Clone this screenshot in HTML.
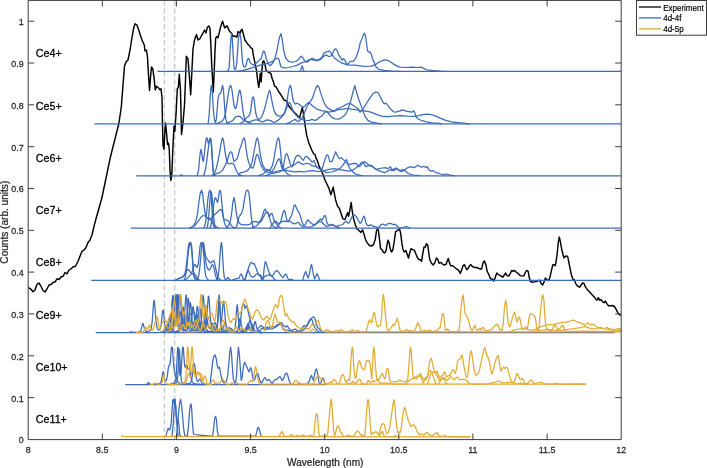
<!DOCTYPE html>
<html><head><meta charset="utf-8"><title>Ce spectra</title>
<style>html,body{margin:0;padding:0;background:#fff}svg{display:block}text{font-family:"Liberation Sans",Arial,Helvetica,sans-serif;fill:#262626}</style></head><body>
<svg width="707" height="468" viewBox="0 0 707 468">
<rect width="707" height="468" fill="#fff"/>
<line x1="164.3" y1="0.4" x2="164.3" y2="439.6" stroke="#8c8c8c" stroke-width="0.6" stroke-dasharray="5.4 2.5"/>
<line x1="174.8" y1="0.4" x2="174.8" y2="439.6" stroke="#8c8c8c" stroke-width="0.6" stroke-dasharray="5.4 2.5"/>
<g fill="none" stroke-linejoin="round" stroke-linecap="butt">
<path d="M28.3 287.5 L30.5 288.8 L33.0 291.8 L35.0 290.0 L37.0 284.3 L39.0 283.0 L41.0 286.3 L43.0 290.5 L45.0 292.0 L47.0 288.8 L49.0 285.0 L51.0 284.5 L53.0 282.5 L55.0 282.0 L57.0 278.8 L59.0 279.5 L61.0 277.0 L63.0 276.3 L65.0 272.5 L67.0 273.8 L69.0 270.0 L71.0 268.8 L73.0 267.0 L75.5 266.3 L78.0 261.3 L80.0 256.3 L82.0 251.3 L84.0 250.0 L86.0 247.5 L88.0 242.5 L90.0 240.0 L92.0 235.0 L94.0 226.3 L96.0 218.8 L98.5 210.0 L101.3 200.0 L102.5 195.0 L110.0 158.8 L118.8 123.8 L121.3 107.0 L123.0 85.0 L124.5 66.0 L126.0 62.0 L128.0 60.0 L130.0 50.0 L132.0 37.5 L133.8 27.5 L135.0 23.8 L137.0 25.0 L139.5 32.5 L142.0 40.0 L144.3 45.0 L145.0 51.0 L146.5 50.0 L147.5 57.5 L148.5 75.0 L149.5 90.5 L150.5 77.5 L151.5 67.0 L152.8 68.8 L154.0 77.5 L155.3 90.0 L156.5 86.3 L158.3 87.5 L159.5 89.5 L161.0 88.8 L162.0 97.5 L162.5 125.0 L163.0 145.0 L164.0 149.3 L164.8 132.5 L165.5 123.0 L166.5 132.5 L167.5 144.5 L168.5 143.0 L169.3 150.0 L170.0 170.0 L170.8 180.5 L171.8 175.0 L172.8 150.0 L174.0 126.3 L174.8 131.3 L176.0 115.0 L177.0 95.0 L177.3 88.8 L178.3 87.5 L179.3 74.3 L180.5 90.0 L181.0 112.5 L181.5 134.5 L183.0 122.5 L184.5 105.0 L185.5 80.0 L186.3 56.3 L188.0 58.8 L189.5 78.0 L190.7 94.8 L191.9 71.0 L193.0 49.0 L194.5 40.0 L196.5 34.5 L198.0 40.0 L200.0 38.6 L201.4 35.8 L203.1 32.9 L204.6 30.0 L206.0 32.9 L207.4 27.2 L208.9 26.0 L210.0 28.6 L210.9 45.8 L211.7 64.4 L212.6 80.0 L213.3 92.0 L214.2 72.0 L214.9 52.9 L215.7 37.9 L216.9 36.5 L218.0 37.9 L219.2 32.9 L220.6 27.2 L221.7 23.6 L222.6 21.2 L223.5 24.3 L224.6 27.9 L225.8 26.9 L226.9 25.7 L228.0 27.9 L229.2 30.7 L230.6 32.2 L231.8 33.6 L232.9 36.5 L234.3 35.8 L235.8 36.5 L236.9 37.2 L238.1 31.5 L239.2 32.2 L240.3 32.9 L241.2 30.0 L242.1 29.3 L242.9 32.2 L243.8 35.8 L244.9 40.0 L246.4 42.2 L247.8 44.3 L249.5 45.8 L250.9 47.9 L252.4 48.6 L253.2 54.3 L254.4 60.1 L255.5 65.8 L256.6 70.8 L257.6 80.2 L258.8 87.5 L259.8 78.5 L260.3 73.3 L261.2 81.9 L261.9 70.8 L262.7 61.9 L263.9 60.9 L265.0 64.8 L266.0 69.9 L267.4 71.6 L269.1 72.5 L270.8 73.3 L272.1 78.5 L273.5 81.9 L274.5 86.2 L276.2 87.0 L277.9 90.4 L279.7 93.0 L281.9 96.4 L284.1 100.2 L286.5 100.7 L288.2 105.0 L289.9 107.5 L292.1 110.1 L294.4 112.6 L296.4 114.4 L298.5 116.9 L299.6 117.4 L301.1 112.0 L302.3 107.7 L303.3 112.8 L304.4 120.5 L305.4 127.4 L306.8 135.9 L308.5 141.9 L310.2 146.2 L311.9 150.4 L313.6 153.8 L315.0 154.4 L316.0 158.1 L317.4 160.7 L318.7 165.0 L320.1 168.4 L321.8 171.8 L323.3 175.1 L325.0 180.3 L327.1 184.5 L328.8 187.9 L330.9 194.8 L332.2 190.5 L333.2 187.1 L334.3 193.1 L335.6 199.9 L337.4 205.9 L339.4 208.5 L341.1 213.6 L342.8 218.7 L344.9 219.6 L346.6 215.3 L347.6 212.7 L348.6 216.2 L350.0 209.3 L351.2 202.5 L352.2 211.0 L353.6 218.7 L355.3 224.7 L357.0 229.0 L359.2 230.7 L360.9 232.4 L362.6 229.8 L364.0 234.1 L365.4 239.2 L367.1 242.6 L369.1 245.2 L371.5 246.1 L373.6 244.4 L375.0 240.1 L375.5 237.6 L376.5 230.8 L377.5 228.7 L378.5 230.8 L379.6 240.2 L380.6 248.7 L382.0 249.6 L383.3 252.1 L384.7 253.0 L386.1 250.4 L387.1 244.4 L388.1 240.2 L389.1 242.7 L390.2 248.7 L391.5 252.1 L392.9 249.6 L394.3 241.0 L395.6 231.6 L397.0 230.8 L398.4 229.9 L399.7 229.4 L400.8 234.2 L401.8 242.7 L402.8 248.7 L404.2 252.1 L405.9 250.4 L407.3 254.7 L408.5 258.1 L409.7 253.0 L411.0 248.7 L412.7 249.6 L414.4 250.4 L415.8 253.8 L417.2 257.3 L418.9 259.5 L420.6 259.8 L421.6 261.5 L422.6 254.7 L424.0 247.0 L425.4 247.0 L426.4 243.6 L427.8 245.3 L428.8 253.0 L429.8 259.8 L431.5 263.2 L433.2 265.0 L435.0 262.4 L436.3 258.1 L437.7 259.0 L439.1 263.2 L440.8 262.4 L442.5 264.1 L444.2 265.0 L446.2 264.1 L447.3 260.7 L448.3 258.5 L449.3 262.4 L450.7 265.8 L452.7 265.8 L454.8 267.5 L456.8 269.2 L458.5 270.1 L460.3 273.5 L461.6 270.1 L463.0 265.8 L464.4 264.6 L465.7 267.5 L466.8 269.7 L468.1 268.4 L469.5 265.8 L470.9 264.6 L472.6 266.7 L474.6 267.5 L476.7 267.5 L478.7 268.4 L480.8 269.2 L481.7 268.7 L483.1 262.7 L484.4 261.0 L485.8 264.4 L487.2 271.3 L488.9 274.7 L490.6 279.0 L492.3 279.0 L493.7 281.2 L495.0 278.1 L496.8 273.0 L498.5 274.7 L500.5 275.6 L502.6 277.3 L504.3 275.0 L505.6 273.0 L507.0 275.6 L508.7 276.1 L510.4 273.3 L511.8 270.4 L513.2 271.3 L514.5 270.4 L516.2 272.1 L518.3 273.8 L520.3 275.6 L522.4 276.1 L524.1 275.6 L525.5 272.1 L526.8 270.4 L528.2 271.3 L529.2 277.3 L530.3 281.2 L532.0 282.4 L534.0 281.9 L536.1 281.5 L538.1 280.7 L539.8 280.2 L541.2 283.6 L542.6 285.0 L543.9 282.4 L545.3 278.1 L547.0 279.8 L548.7 280.7 L550.1 276.4 L551.5 270.4 L552.8 264.8 L554.2 264.8 L555.2 265.8 L556.2 261.0 L557.3 252.5 L558.3 242.2 L559.3 237.1 L560.3 241.4 L561.7 249.1 L563.1 255.0 L564.1 257.9 L565.5 256.2 L566.8 255.9 L567.9 257.3 L568.9 262.7 L570.3 269.6 L571.6 275.6 L573.0 279.5 L574.4 279.8 L575.7 283.6 L577.4 285.8 L579.5 287.2 L581.2 285.0 L582.6 282.9 L583.9 283.2 L585.3 286.7 L587.0 289.2 L589.4 291.8 L591.8 294.4 L594.2 296.9 L596.2 299.7 L597.3 300.0 L598.3 297.6 L599.7 300.2 L601.0 299.7 L602.7 301.9 L604.1 302.7 L605.5 301.0 L606.8 303.6 L608.5 305.8 L610.6 305.8 L612.6 305.5 L614.4 306.5 L616.1 309.2 L617.8 312.6 L619.5 314.7 L621.0 315.6" stroke="#000" stroke-width="1.45"/>
<g stroke="#3C6ABA" stroke-width="1.25">
<path d="M157.5 71.3 L621.0 71.3"/>
<path d="M226.0 71.3 L227.9 71.2 L229.2 67.2 L230.0 52.9 L230.9 38.6 L231.6 33.6 L232.3 38.6 L233.2 55.8 L234.0 67.2 L234.9 69.8 L235.8 68.5 L236.6 64.4 L237.5 52.9 L238.3 40.0 L239.2 34.3 L240.1 33.6 L240.9 38.6 L241.8 52.9 L242.6 62.9 L243.6 66.5 L244.9 67.2 L246.1 65.1 L247.2 60.1 L248.4 58.4 L249.4 60.1 L250.4 62.9 L251.8 64.1 L253.2 65.1 L254.9 64.4 L257.2 62.2 L259.4 60.1 L261.2 58.6 L262.7 52.9 L263.8 50.8 L264.9 52.9 L266.4 59.4 L268.1 63.6 L270.1 65.8 L272.2 63.6 L274.4 60.1 L276.4 52.9 L278.1 44.3 L279.5 37.2 L281.0 33.6 L282.1 38.6 L283.6 50.0 L285.7 57.9 L288.6 61.5 L292.2 62.2 L295.7 61.5 L298.6 59.4 L301.2 56.1 L302.9 57.9 L305.0 61.5 L307.2 62.2 L310.0 59.8 L312.2 58.4 L314.3 59.4 L316.5 60.8 L318.6 60.2 L320.8 59.4 L322.2 57.9 L324.3 55.8 L326.5 55.1 L328.6 56.5 L330.8 56.1 L332.9 52.9 L334.4 49.3 L335.8 48.9 L337.2 50.8 L338.9 55.1 L340.8 57.9 L342.2 60.1 L343.7 58.6 L345.1 60.8 L346.5 63.6 L348.0 64.4 L349.4 62.2 L350.8 61.2 L353.0 61.5 L355.1 59.4 L357.3 54.3 L359.0 48.6 L360.4 42.2 L361.8 39.3 L363.3 35.0 L364.5 33.2 L365.6 36.5 L366.7 44.3 L367.5 50.8 L369.0 52.2 L370.1 51.8 L371.6 55.1 L373.0 60.1 L374.4 62.9 L375.7 66.5 L378.6 69.4 L384.3 70.4 L391.5 71.2 L400.0 71.3"/>
<path d="M236.0 71.3 L242.0 70.6 L248.0 69.2 L254.0 67.2 L260.0 65.2 L266.0 63.8 L270.0 62.6 L273.0 61.0 L275.5 59.0 L277.5 58.0 L279.0 59.5 L280.7 66.5 L282.9 67.7 L285.7 67.9 L288.6 67.5 L292.9 66.5 L297.2 65.1 L301.5 62.9 L305.8 61.5 L308.6 60.1 L311.0 59.2 L314.3 60.4 L318.6 59.6 L321.5 57.9 L324.3 52.9 L327.2 51.5 L329.4 51.2 L331.5 53.6 L334.4 57.9 L337.2 60.1 L341.5 62.9 L347.2 64.8 L354.4 65.1 L360.0 65.8 L365.7 66.5 L371.4 66.1 L375.7 64.4 L380.0 61.5 L383.6 60.1 L385.8 59.8 L388.6 60.8 L392.9 63.6 L397.2 66.1 L400.1 67.2 L405.8 67.5 L411.5 67.2 L417.2 67.5 L421.5 67.2 L423.7 68.4 L426.5 69.8 L431.5 70.4 L440.1 71.1 L446.0 71.3"/>
<path d="M300.0 71.3 L300.7 70.2 L302.2 65.8 L303.6 70.2 L304.5 71.3"/>
<path d="M94.5 123.8 L621.0 123.8"/>
<path d="M207.5 123.8 L208.2 123.0 L209.2 114.6 L210.1 98.9 L210.8 88.5 L211.3 85.3 L212.2 90.6 L213.2 107.3 L214.3 118.8 L215.3 122.5 L216.3 119.9 L217.2 109.4 L218.0 98.9 L218.9 94.7 L219.9 93.7 L221.0 92.6 L221.8 88.5 L222.6 85.3 L223.5 90.6 L224.3 102.1 L225.1 113.6 L226.0 119.9 L227.0 122.5 L229.0 123.8"/>
<path d="M216.0 123.8 L217.6 123.2 L221.8 121.4 L223.9 118.8 L225.5 113.6 L226.8 104.2 L228.3 93.7 L229.6 86.9 L230.7 85.5 L231.7 88.5 L232.8 95.8 L233.8 104.2 L234.9 108.3 L235.9 108.3 L237.0 104.2 L238.0 96.8 L239.1 91.6 L239.9 90.0 L240.8 93.7 L241.9 102.1 L242.9 110.4 L244.0 116.7 L245.0 119.9 L246.1 121.4 L249.0 122.6 L252.0 123.8"/>
<path d="M240.0 123.8 L243.8 121.0 L245.9 118.3 L247.9 116.7 L249.5 115.1 L250.6 111.5 L251.6 103.1 L252.4 97.9 L253.2 96.8 L254.0 98.9 L254.9 106.3 L255.7 112.5 L256.8 117.2 L258.4 119.3 L260.0 118.8 L261.6 116.7 L263.1 113.6 L264.7 108.3 L266.3 102.1 L267.8 95.8 L268.9 91.6 L269.6 90.3 L270.4 92.6 L271.5 98.9 L272.5 104.2 L274.0 110.4 L276.1 114.6 L278.7 116.2 L281.4 115.9 L283.5 114.6 L285.0 111.5 L286.6 105.2 L287.6 96.8 L289.0 88.5 L290.3 85.3 L291.3 88.5 L292.3 95.8 L293.4 101.5 L295.0 104.0 L297.1 103.3 L299.1 104.2 L301.2 106.0 L303.3 107.3 L304.9 106.0 L306.5 104.2 L308.0 102.9 L309.6 102.1 L311.2 100.5 L312.8 97.0 L314.3 92.6 L315.9 87.9 L317.5 85.3 L319.0 87.4 L320.6 92.6 L322.7 98.9 L324.8 104.2 L327.4 107.8 L330.8 109.9 L334.4 111.4 L337.2 108.5 L340.0 107.8 L343.0 106.3 L346.5 104.2 L349.4 103.5 L351.5 104.2 L354.4 106.3 L358.0 108.5 L360.0 112.1 L362.9 109.2 L366.4 103.5 L370.0 97.8 L372.9 93.8 L375.7 92.0 L377.9 92.3 L380.0 96.3 L382.2 100.6 L384.0 103.8 L386.0 103.2 L387.9 105.6 L390.8 109.2 L393.6 111.8 L395.8 112.1 L397.9 111.4 L400.1 110.9 L402.2 109.9 L404.3 110.4 L407.2 111.4 L410.1 111.8 L412.2 112.1 L413.6 110.6 L414.8 112.8 L416.1 117.1 L418.7 119.2 L422.2 120.7 L426.5 121.8 L431.5 122.8 L437.3 123.2 L442.0 123.8"/>
<path d="M226.0 123.8 L228.1 122.5 L231.2 121.4 L233.3 119.9 L234.9 117.8 L236.4 116.5 L238.5 116.2 L240.1 116.5 L241.7 118.3 L243.8 120.4 L245.9 121.4 L249.0 122.0 L252.1 120.9 L255.3 119.9 L257.4 119.9 L259.5 120.9 L262.6 122.0 L265.7 120.4 L267.8 119.9 L271.0 120.9 L274.0 122.5 L275.6 121.9 L278.7 119.9 L281.9 116.7 L284.5 113.6 L286.6 108.3 L288.2 103.1 L289.7 102.6 L291.1 105.2 L292.3 109.4 L293.9 112.5 L296.0 115.1 L298.6 117.8 L301.8 119.3 L305.9 120.4 L309.1 120.7 L311.7 119.3 L313.3 119.9 L315.4 120.4 L317.5 119.3 L319.5 117.2 L322.2 115.7 L324.3 112.8 L326.5 111.4 L328.6 113.5 L331.5 117.1 L335.1 118.9 L338.7 119.2 L341.5 117.8 L344.4 115.6 L346.5 112.8 L348.0 109.2 L349.4 104.9 L350.8 100.6 L353.0 92.0 L354.8 85.6 L356.5 92.0 L358.7 99.2 L360.8 104.9 L362.9 110.6 L365.0 116.4 L367.9 120.4 L371.4 122.1 L377.2 123.1 L382.0 123.8"/>
<path d="M286.0 123.8 L290.0 122.3 L293.0 120.5 L295.0 119.3 L296.5 120.8 L298.5 121.5 L301.8 118.3 L304.0 114.0 L306.5 107.5 L309.3 102.8 L312.9 106.3 L317.2 109.2 L321.5 110.6 L325.8 111.4 L328.6 112.1 L332.9 111.4 L337.2 109.9 L342.9 109.2 L347.2 108.5 L351.5 109.2 L357.3 109.9 L360.0 110.6 L364.3 110.9 L370.0 111.8 L375.7 114.2 L381.5 116.1 L387.2 116.6 L392.9 116.1 L400.1 115.6 L407.2 116.1 L414.4 116.4 L418.7 115.6 L422.9 114.6 L427.2 114.2 L431.5 114.6 L435.8 116.1 L440.1 118.1 L445.8 120.4 L451.6 121.8 L460.0 122.8 L470.0 123.8"/>
<path d="M136.3 175.8 L621.0 175.8"/>
<path d="M180.0 175.8 L181.3 174.6 L182.6 175.8"/>
<path d="M196.5 175.8 L197.3 175.5 L198.6 169.8 L199.6 158.3 L200.5 150.9 L201.1 149.4 L201.9 154.1 L202.8 160.3 L203.4 161.4 L204.2 155.1 L205.3 144.6 L206.2 138.4 L207.0 137.8 L207.8 141.5 L208.4 143.6 L209.3 140.5 L209.9 138.4 L210.7 138.9 L211.6 145.7 L212.4 159.3 L213.2 170.8 L214.3 175.0 L215.5 175.8"/>
<path d="M203.0 175.8 L203.6 175.5 L205.2 170.8 L206.7 161.4 L208.0 150.9 L209.0 142.6 L210.1 138.2 L210.9 139.4 L211.8 150.9 L212.6 164.5 L213.4 172.9 L214.6 175.2 L215.5 175.8"/>
<path d="M211.5 175.8 L212.5 175.0 L214.6 172.9 L216.2 168.7 L217.7 162.4 L219.3 154.1 L220.9 144.6 L221.9 139.4 L222.6 137.8 L223.5 140.5 L224.5 147.8 L225.6 155.1 L226.6 160.3 L227.9 163.5 L229.2 164.0 L230.8 163.3 L232.4 163.3 L233.9 164.5 L235.2 167.7 L236.6 171.3 L238.1 173.9 L240.2 175.2 L242.0 175.8"/>
<path d="M212.0 175.8 L213.5 175.0 L217.2 173.4 L220.3 172.4 L222.4 170.3 L224.0 167.7 L225.6 164.5 L227.1 161.4 L228.5 156.2 L229.8 152.5 L230.8 151.8 L231.9 152.5 L232.9 157.2 L233.9 161.4 L235.5 160.3 L237.1 158.8 L238.3 155.1 L239.7 149.4 L241.1 145.7 L242.3 141.5 L243.4 138.4 L244.2 137.8 L245.0 140.5 L246.0 147.8 L247.0 155.1 L248.4 161.4 L249.9 165.6 L251.5 167.7 L252.8 168.2 L254.0 165.6 L255.1 160.3 L256.4 155.1 L257.4 154.1 L258.5 156.2 L259.8 161.4 L261.4 166.1 L263.5 169.8 L266.1 171.9 L269.3 172.4 L271.9 171.3 L274.0 168.7 L275.5 165.6 L277.1 161.4 L278.7 158.8 L279.7 159.3 L280.8 163.5 L281.8 167.7 L282.9 169.8 L283.4 166.6 L284.4 160.3 L285.5 155.1 L286.7 153.5 L287.8 155.6 L289.1 160.3 L290.5 164.5 L291.8 166.6 L293.0 164.5 L294.4 160.3 L295.9 156.7 L297.5 155.3 L299.1 155.6 L300.7 157.0 L302.2 159.8 L303.3 160.3 L304.3 158.3 L305.9 156.2 L307.5 157.0 L309.0 158.8 L310.6 160.3 L312.2 162.4 L313.2 161.4 L313.9 160.3 L314.8 162.4 L315.8 165.6 L317.4 167.7 L319.5 168.7 L320.9 170.6 L322.9 166.6 L324.9 159.7 L326.8 154.8 L328.2 155.7 L329.8 161.7 L331.8 161.7 L333.8 156.7 L335.7 151.8 L337.3 155.7 L339.3 158.7 L341.3 157.7 L343.3 159.7 L345.2 160.7 L346.6 159.7 L348.0 164.7 L350.0 168.6 L352.6 171.6 L355.5 174.0 L359.5 175.1 L363.0 175.8"/>
<path d="M238.0 175.8 L240.2 172.9 L244.4 171.9 L247.0 170.8 L249.1 168.7 L250.7 166.1 L252.3 161.4 L253.8 153.0 L255.4 144.6 L256.4 139.4 L257.4 138.0 L258.5 141.5 L259.8 150.9 L261.4 160.3 L263.0 165.6 L265.1 169.2 L267.7 170.3 L270.3 169.8 L272.4 165.6 L274.0 158.3 L275.5 148.8 L277.1 140.5 L278.4 137.8 L279.4 140.5 L280.5 150.9 L281.5 161.4 L282.6 167.7 L283.9 170.3 L286.0 172.4 L288.1 174.5 L290.2 175.5 L292.0 175.8"/>
<path d="M258.0 175.8 L262.5 174.3 L265.6 172.0 L267.7 169.5 L269.8 170.8 L272.0 172.3 L276.0 171.5 L280.0 170.5 L283.4 169.8 L286.5 168.3 L289.0 167.0 L291.8 166.6 L293.9 165.0 L296.0 163.5 L298.0 161.9 L299.6 162.4 L301.2 163.7 L303.3 164.5 L305.4 163.5 L307.5 163.3 L309.6 164.0 L311.6 165.6 L313.7 166.1 L315.8 166.6 L319.0 168.2 L322.0 169.8 L325.8 172.6 L331.8 172.0 L335.7 170.6 L339.7 168.6 L342.7 165.6 L345.2 161.7 L346.8 162.7 L348.6 164.7 L350.6 164.1 L353.6 163.3 L356.5 163.7 L358.5 166.6 L360.5 165.6 L362.5 162.7 L365.0 161.7 L367.4 163.7 L369.4 165.6 L372.4 166.6 L375.3 168.6 L378.3 170.6 L381.3 171.6 L384.3 172.6 L387.2 171.6 L390.2 169.6 L392.2 170.6 L394.2 168.6 L396.1 168.0 L398.1 169.6 L400.1 170.6 L403.1 169.6 L405.0 170.6 L407.0 172.6 L410.0 174.0 L413.0 175.0 L417.9 175.3 L420.0 175.8"/>
<path d="M265.0 175.8 L270.8 173.7 L275.0 172.9 L279.2 171.8 L282.3 170.6 L285.5 170.2 L288.6 170.8 L291.8 171.3 L294.9 171.8 L299.1 171.3 L303.3 171.8 L306.4 171.6 L309.0 170.8 L312.7 170.6 L316.9 171.3 L322.0 171.5 L327.8 169.6 L333.8 168.6 L339.7 169.6 L345.6 170.6 L349.6 171.2 L353.6 169.6 L356.5 167.6 L359.5 164.7 L361.9 162.1 L363.9 163.7 L365.8 166.6 L368.4 165.6 L371.4 165.2 L373.4 167.6 L376.3 169.6 L379.3 168.6 L382.3 168.0 L385.2 167.6 L388.2 168.6 L390.2 166.6 L392.2 169.6 L394.2 170.6 L397.1 168.6 L399.1 170.6 L402.1 171.6 L405.0 169.6 L408.0 167.6 L411.0 166.6 L414.0 167.6 L415.9 166.6 L417.9 165.2 L419.9 166.6 L421.9 167.2 L423.9 166.2 L425.8 167.6 L427.2 166.6 L428.8 169.6 L430.8 171.2 L432.8 170.6 L434.8 172.0 L437.7 173.2 L440.7 174.0 L443.7 174.6 L446.6 174.0 L450.0 175.1 L455.0 175.8"/>
<path d="M130.8 228.2 L621.0 228.2"/>
<path d="M189.0 228.2 L191.3 227.2 L193.9 225.4 L196.0 220.7 L197.6 213.4 L198.8 202.9 L200.2 193.5 L201.5 190.2 L202.6 193.5 L203.6 202.9 L204.7 211.3 L205.7 215.5 L207.0 218.1 L208.5 218.6 L210.1 218.6 L211.7 218.1 L213.8 215.5 L215.9 213.4 L217.4 212.3 L219.0 210.3 L220.6 209.4 L221.6 210.3 L222.7 214.4 L223.7 218.6 L225.3 220.2 L226.9 219.9 L228.4 221.2 L230.0 223.3 L231.6 225.9 L233.1 227.2 L235.0 228.2"/>
<path d="M203.5 228.2 L204.4 227.2 L205.7 221.8 L206.8 211.3 L207.8 199.8 L208.9 192.5 L209.8 190.2 L210.7 193.5 L211.6 202.9 L212.4 215.5 L213.3 224.9 L214.3 227.2 L215.0 228.2"/>
<path d="M206.5 228.2 L207.5 226.5 L208.5 219.0 L209.4 207.0 L210.3 196.0 L211.2 191.4 L212.1 196.0 L213.0 208.0 L213.9 220.0 L214.9 226.8 L216.0 228.2"/>
<path d="M209.5 228.2 L210.6 226.5 L211.7 221.8 L212.7 213.4 L213.8 204.0 L214.8 198.7 L215.7 197.7 L216.6 200.3 L217.6 202.4 L218.5 197.7 L219.3 191.9 L220.2 190.2 L221.0 193.5 L221.8 202.9 L222.9 213.4 L223.9 220.7 L225.3 225.4 L226.9 227.0 L228.0 228.2"/>
<path d="M190.0 228.2 L192.3 227.0 L195.5 224.9 L198.6 220.7 L201.2 217.1 L203.3 215.5 L204.9 216.0 L207.0 217.6 L209.6 219.1 L211.5 221.0 L213.5 224.0 L216.0 226.5 L219.0 228.2"/>
<path d="M226.0 228.2 L227.5 226.8 L228.9 224.9 L230.5 220.7 L231.9 211.3 L232.9 201.9 L234.0 197.5 L235.0 201.9 L236.1 211.3 L237.3 218.6 L238.9 222.8 L241.0 224.4 L243.6 224.9 L246.7 224.9 L249.9 224.4 L251.1 222.8 L253.8 221.6 L256.4 221.6 L258.5 222.3 L260.0 221.2 L261.6 218.6 L263.2 213.4 L264.2 210.3 L265.1 209.0 L266.0 210.8 L266.8 212.9 L267.9 212.3 L268.9 214.4 L270.0 219.7 L271.5 223.9 L273.1 225.9 L276.0 228.2"/>
<path d="M235.5 228.2 L236.3 227.2 L237.3 224.0 L238.4 218.6 L239.9 215.5 L241.5 213.4 L243.1 208.2 L244.4 199.8 L245.7 192.5 L246.7 190.4 L247.8 190.2 L248.8 192.5 L249.9 200.8 L250.9 213.4 L252.0 222.8 L253.0 226.5 L254.5 228.2"/>
<path d="M252.0 228.2 L253.2 227.0 L256.4 226.0 L259.5 222.8 L261.6 220.7 L263.7 216.5 L265.3 213.4 L266.6 211.8 L267.9 212.9 L268.9 216.5 L270.0 215.5 L271.2 213.4 L272.3 213.9 L273.3 217.6 L274.7 221.8 L276.3 223.9 L277.8 225.4 L279.4 227.0 L281.0 228.2"/>
<path d="M276.0 228.2 L277.8 226.0 L279.4 223.9 L281.0 220.7 L282.3 215.5 L283.6 211.3 L284.4 210.5 L285.3 212.3 L286.2 217.6 L287.2 221.2 L288.3 221.6 L289.3 219.7 L290.9 216.5 L291.9 214.4 L293.0 210.3 L294.0 205.5 L295.1 204.8 L296.1 207.1 L297.2 209.7 L298.2 211.3 L299.5 213.4 L300.8 217.6 L302.2 222.3 L303.5 225.4 L304.5 225.9 L305.6 223.9 L306.4 221.9 L307.8 219.8 L309.2 221.2 L311.4 223.3 L313.5 224.7 L315.6 224.0 L317.7 221.9 L319.1 220.2 L320.6 219.0 L322.0 220.5 L323.1 218.3 L324.1 215.9 L325.1 215.5 L325.9 217.6 L326.9 222.6 L328.3 224.7 L330.5 225.4 L332.6 224.4 L334.7 226.1 L336.8 226.4 L338.9 225.4 L341.1 225.0 L343.2 224.0 L344.6 222.2 L346.0 221.2 L347.4 222.6 L348.8 223.3 L350.3 220.5 L351.7 217.3 L353.1 215.5 L354.5 215.1 L355.9 216.2 L357.3 218.3 L358.7 221.2 L360.2 223.3 L361.3 222.6 L362.3 219.8 L363.3 216.9 L364.1 216.2 L365.0 218.3 L365.8 222.6 L367.2 225.4 L368.9 225.8 L370.3 224.7 L371.8 225.4 L373.6 226.4 L375.7 226.8 L377.8 227.8 L379.3 226.8 L380.7 225.0 L382.5 224.0 L384.2 224.7 L385.6 225.4 L387.3 224.0 L389.2 223.3 L391.3 223.6 L393.4 224.7 L395.5 224.4 L396.9 225.8 L398.4 227.5 L399.8 228.2 L401.9 227.8 L404.0 227.0 L406.5 226.5 L408.5 227.5 L410.0 228.2"/>
<path d="M270.0 228.2 L272.0 224.5 L274.2 221.8 L275.7 221.2 L277.3 222.8 L278.9 223.9 L280.5 222.5 L282.0 221.6 L284.1 221.2 L286.2 221.6 L288.3 220.7 L289.9 221.2 L291.9 222.8 L294.0 223.9 L296.1 223.3 L297.7 222.3 L299.3 223.3 L300.8 225.4 L302.9 226.8 L306.6 227.2 L310.8 227.0 L313.9 225.4 L316.0 223.9 L318.0 222.8 L320.0 221.5 L322.0 222.3 L324.0 224.5 L326.5 226.5 L329.0 225.8 L332.0 224.6 L334.0 225.6 L337.0 227.2 L340.0 228.2"/>
<path d="M91.3 280.4 L621.0 280.4"/>
<path d="M175.0 280.4 L176.2 279.5 L180.4 277.9 L183.0 276.9 L184.8 274.8 L186.1 267.5 L187.5 254.9 L188.5 245.5 L189.4 242.6 L190.1 244.5 L190.8 242.4 L191.7 246.6 L192.5 258.1 L193.3 269.6 L194.2 275.9 L195.2 277.4 L197.0 279.5 L199.0 280.4"/>
<path d="M184.0 280.4 L185.1 278.0 L186.6 270.0 L188.2 253.0 L189.8 243.0 L191.0 244.0 L192.1 255.0 L193.1 269.0 L194.2 277.5 L195.5 279.8 L196.5 280.4"/>
<path d="M177.0 280.4 L178.3 278.5 L182.5 277.0 L185.1 273.8 L186.6 270.6 L187.9 269.6 L189.3 270.6 L190.8 272.7 L192.9 274.3 L194.5 273.8 L196.1 275.9 L198.2 279.0 L200.0 280.4"/>
<path d="M185.0 280.4 L188.7 276.9 L191.4 273.8 L192.9 269.6 L194.2 265.4 L195.2 264.3 L196.1 266.4 L197.1 267.5 L198.2 264.3 L199.2 254.9 L200.0 246.6 L200.9 242.6 L201.7 243.9 L202.4 243.0 L203.2 242.4 L204.0 245.5 L204.9 251.8 L205.7 256.5 L207.1 259.1 L208.6 260.7 L209.7 262.3 L210.9 262.8 L212.3 261.4 L213.6 260.7 L214.7 263.3 L215.7 268.5 L217.0 273.8 L218.2 277.9 L219.6 279.5 L221.0 280.4"/>
<path d="M196.0 280.4 L197.1 279.0 L198.7 276.0 L199.7 268.5 L200.8 257.0 L201.6 246.6 L202.3 242.6 L203.2 247.6 L204.0 259.0 L204.9 270.6 L205.7 276.0 L207.1 278.5 L208.5 280.4"/>
<path d="M203.2 242.4 L204.4 253.0 L205.5 260.2 L206.5 265.4 L207.6 268.5 L209.1 270.1 L210.5 268.5 L211.6 265.4 L212.6 264.3 L213.9 267.5 L215.1 273.8 L216.5 278.5 L218.0 280.4"/>
<path d="M216.0 280.4 L217.0 279.2 L218.2 275.9 L219.1 268.5 L219.9 257.0 L220.7 246.6 L221.4 242.4 L222.1 247.6 L222.9 260.2 L223.6 271.7 L224.3 277.4 L225.4 279.5 L226.4 279.4 L228.0 277.4 L229.6 279.6 L231.0 280.4"/>
<path d="M232.0 280.4 L236.2 278.6 L239.1 278.2 L240.2 275.1 L241.2 273.9 L242.2 275.8 L243.3 279.3 L244.7 280.0 L246.1 276.5 L247.6 270.8 L249.0 266.5 L250.4 263.0 L251.5 262.3 L252.9 264.0 L254.3 263.7 L255.8 267.3 L257.2 271.5 L258.9 275.1 L260.3 276.4 L261.7 279.3 L263.1 280.4"/>
<path d="M244.7 280.4 L246.1 275.1 L247.6 271.1 L248.4 270.5 L249.3 272.9 L250.4 275.7 L252.5 277.2 L254.6 276.4 L256.0 274.3 L257.5 273.6 L258.9 275.1 L260.3 274.7 L261.4 276.4 L262.4 279.3 L263.4 276.4 L264.2 268.0 L265.2 261.6 L266.2 263.0 L267.4 267.3 L268.8 271.5 L270.2 275.1 L271.6 276.4 L273.0 275.1 L274.4 272.9 L275.8 271.1 L277.0 270.5 L278.4 271.9 L280.1 274.3 L281.5 276.4 L282.9 277.6 L284.3 275.7 L285.7 273.9 L286.9 275.7 L287.9 278.6 L289.3 279.6 L291.4 279.3 L293.5 280.4"/>
<path d="M262.4 280.4 L264.5 276.4 L267.4 275.3 L270.2 274.7 L272.3 276.4 L274.4 279.3 L275.8 280.4"/>
<path d="M302.7 280.4 L304.1 275.1 L305.6 271.5 L306.7 274.3 L308.1 277.9 L309.1 275.1 L310.5 268.0 L311.5 264.4 L312.3 268.0 L313.5 275.1 L314.7 279.0 L315.7 276.4 L317.1 273.6 L318.3 276.4 L319.7 280.0 L320.5 280.4"/>
</g>
<g stroke="#3C6ABA" stroke-width="1.25">
<path d="M95.7 332.7 L614.7 332.7"/>
<path d="M128.0 332.5 L128.4 332.5 L128.8 332.4 L129.2 332.4 L129.6 332.3 L130.0 332.2 L130.4 332.0 L130.8 331.9 L131.2 331.9 L131.6 332.0 L132.0 332.1 L132.4 332.2 L132.8 332.3 L133.2 332.4 L133.6 332.4 L134.0 332.4 L134.4 332.4 L134.8 332.4 L135.2 332.4 L135.6 332.4 L136.0 332.4 L136.4 332.3 L136.8 332.3 L137.2 332.3 L137.6 332.2 L138.0 332.2 L138.4 332.1 L138.8 332.1 L139.2 332.0 L139.6 331.8 L140.0 331.6 L140.4 331.2 L140.8 330.4 L141.2 329.4 L141.6 327.9 L142.0 326.1 L142.4 324.3 L142.8 323.4 L143.2 323.7 L143.6 325.1 L144.0 326.9 L144.4 328.5 L144.8 329.8 L145.2 330.6 L145.6 331.1 L146.0 331.3 L146.4 331.5 L146.8 331.5 L147.2 331.5 L147.6 331.5 L148.0 331.4 L148.4 331.3 L148.8 331.2 L149.2 331.0 L149.6 330.8 L150.0 330.5 L150.4 330.0 L150.8 329.2 L151.2 327.9 L151.6 325.9 L152.0 322.9 L152.4 318.7 L152.8 313.6 L153.2 307.9 L153.6 303.0 L154.0 300.3 L154.4 301.2 L154.8 305.2 L155.2 310.6 L155.6 316.1 L156.0 320.7 L156.4 324.2 L156.8 326.7 L157.2 328.2 L157.6 329.1 L158.0 329.6 L158.4 329.9 L158.8 330.0 L159.2 329.9 L159.6 329.7 L160.0 329.2 L160.4 328.2 L160.8 326.5 L161.2 324.1 L161.6 320.7 L162.0 316.6 L162.4 312.7 L162.8 310.1 L163.2 310.1 L163.6 312.7 L164.0 316.6 L164.4 320.7 L164.8 324.1 L165.2 326.5 L165.6 328.2 L166.0 329.2 L166.4 329.7 L166.8 330.0 L167.2 330.1 L167.6 330.1 L168.0 330.1 L168.4 329.9 L168.8 329.6 L169.2 329.2 L169.6 328.4 L170.0 327.1 L170.4 325.1 L170.8 322.0 L171.2 317.6 L171.6 312.0 L172.0 305.7 L172.4 299.6 L172.8 295.7 L173.2 295.6 L173.6 299.1 L174.0 304.8 L174.4 310.5 L174.8 315.2 L175.2 317.9 L175.6 317.9 L176.0 314.6 L176.4 308.2 L176.8 300.2 L177.2 294.7 L177.6 294.7 L178.0 301.2 L178.4 310.1 L178.8 317.8 L179.2 323.1 L179.6 326.2 L180.0 327.9 L180.4 328.7 L180.8 329.1 L181.2 329.3 L181.6 329.3 L182.0 329.2 L182.4 328.9 L182.8 328.3 L183.2 327.2 L183.6 325.2 L184.0 322.1 L184.4 317.5 L184.8 311.4 L185.2 304.5 L185.6 298.2 L186.0 294.8 L186.4 295.9 L186.8 301.1 L187.2 307.9 L187.6 314.5 L188.0 319.8 L188.4 323.6 L188.8 326.0 L189.2 327.3 L189.6 327.9 L190.0 327.8 L190.4 327.1 L190.8 325.6 L191.2 323.2 L191.6 319.7 L192.0 315.4 L192.4 310.8 L192.8 307.4 L193.2 306.6 L193.6 309.0 L194.0 313.3 L194.4 318.0 L194.8 322.1 L195.2 325.2 L195.6 327.4 L196.0 328.7 L196.4 329.5 L196.8 329.9 L197.2 330.2 L197.6 330.3 L198.0 330.3 L198.4 330.2 L198.8 330.1 L199.2 329.9 L199.6 329.4 L200.0 328.7 L200.4 327.4 L200.8 325.1 L201.2 321.6 L201.6 316.6 L202.0 310.3 L202.4 303.4 L202.8 297.5 L203.2 295.2 L203.6 297.6 L204.0 303.4 L204.4 310.4 L204.8 316.8 L205.2 321.8 L205.6 325.4 L206.0 327.7 L206.4 329.1 L206.8 329.9 L207.2 330.4 L207.6 330.7 L208.0 331.0 L208.4 331.1 L208.8 331.3 L209.2 331.4 L209.6 331.5 L210.0 331.6 L210.4 331.6 L210.8 331.6 L211.2 331.7 L211.6 331.7 L212.0 331.7 L212.4 331.7 L212.8 331.7 L213.2 331.6 L213.6 331.6 L214.0 331.5 L214.4 331.4 L214.8 331.2 L215.2 331.0 L215.6 330.8 L216.0 330.4 L216.4 329.6 L216.8 328.2 L217.2 325.5 L217.6 320.7 L218.0 313.5 L218.4 304.6 L218.8 296.9 L219.2 294.9 L219.6 300.4 L220.0 309.2 L220.4 317.4 L220.8 323.4 L221.2 327.1 L221.6 329.1 L222.0 330.1 L222.4 330.7 L222.8 331.0 L223.2 331.2 L223.6 331.4 L224.0 331.6 L224.4 331.7 L224.8 331.7 L225.2 331.8 L225.6 331.8 L226.0 331.8 L226.4 331.8 L226.8 331.8 L227.2 331.7 L227.6 331.5 L228.0 331.3 L228.4 330.9 L228.8 330.6 L229.2 330.1 L229.6 329.6 L230.0 329.1 L230.4 328.7 L230.8 328.4 L231.2 328.4 L231.6 328.7 L232.0 329.1 L232.4 329.6 L232.8 330.2 L233.2 330.7 L233.6 331.1 L234.0 331.4 L234.4 331.7 L234.8 331.9 L235.2 332.0 L235.6 332.1 L236.0 332.2 L236.4 332.2 L236.8 332.2 L237.2 332.2 L237.6 332.3 L238.0 332.3 L238.4 332.3 L238.8 332.3 L239.2 332.3 L239.6 332.3 L240.0 332.2 L240.4 332.2 L240.8 332.2 L241.2 332.2 L241.6 332.1 L242.0 332.1 L242.4 332.0 L242.8 331.8 L243.2 331.6 L243.6 331.3 L244.0 330.9 L244.4 330.4 L244.8 329.8 L245.2 329.1 L245.6 328.3 L246.0 327.5 L246.4 326.8 L246.8 326.4 L247.2 326.4 L247.6 326.7 L248.0 327.3 L248.4 328.0 L248.8 328.7 L249.2 329.3 L249.6 329.6 L250.0 329.6 L250.4 329.2 L250.8 328.4 L251.2 327.2 L251.6 325.9 L252.0 324.7 L252.4 324.3 L252.8 324.8 L253.2 326.1 L253.6 327.7 L254.0 329.1 L254.4 330.2 L254.8 331.0 L255.2 331.5 L255.6 331.8 L256.0 332.0 L256.4 332.1 L256.8 332.2 L257.2 332.2 L257.6 332.3 L258.0 332.3 L258.4 332.4 L258.8 332.4 L259.2 332.4 L259.6 332.4 L260.0 332.5 L260.4 332.5 L260.8 332.5 L261.2 332.5 L261.6 332.5 L262.0 332.5"/>
<path d="M160.0 332.4 L160.4 332.4 L160.8 332.4 L161.2 332.4 L161.6 332.3 L162.0 332.3 L162.4 332.3 L162.8 332.2 L163.2 332.2 L163.6 332.2 L164.0 332.1 L164.4 332.1 L164.8 332.1 L165.2 332.0 L165.6 331.9 L166.0 331.9 L166.4 331.8 L166.8 331.7 L167.2 331.6 L167.6 331.4 L168.0 331.3 L168.4 331.1 L168.8 330.8 L169.2 330.3 L169.6 329.7 L170.0 328.6 L170.4 326.7 L170.8 323.5 L171.2 318.8 L171.6 312.4 L172.0 305.0 L172.4 298.6 L172.8 295.8 L173.2 298.4 L173.6 304.6 L174.0 311.6 L174.4 317.7 L174.8 322.1 L175.2 324.6 L175.6 325.5 L176.0 324.6 L176.4 321.6 L176.8 316.1 L177.2 308.3 L177.6 299.8 L178.0 294.7 L178.4 296.7 L178.8 304.3 L179.2 313.1 L179.6 320.2 L180.0 324.9 L180.4 327.6 L180.8 329.0 L181.2 329.7 L181.6 330.1 L182.0 330.4 L182.4 330.5 L182.8 330.6 L183.2 330.6 L183.6 330.5 L184.0 330.4 L184.4 330.2 L184.8 329.9 L185.2 329.2 L185.6 328.1 L186.0 326.1 L186.4 322.8 L186.8 318.0 L187.2 311.7 L187.6 304.8 L188.0 299.4 L188.4 298.2 L188.8 301.8 L189.2 308.2 L189.6 314.9 L190.0 320.6 L190.4 324.6 L190.8 327.1 L191.2 328.6 L191.6 329.4 L192.0 329.9 L192.4 330.1 L192.8 330.2 L193.2 330.1 L193.6 330.0 L194.0 329.6 L194.4 329.0 L194.8 327.8 L195.2 325.8 L195.6 322.9 L196.0 318.9 L196.4 314.1 L196.8 309.4 L197.2 306.4 L197.6 306.4 L198.0 309.5 L198.4 314.1 L198.8 318.9 L199.2 323.0 L199.6 325.9 L200.0 327.9 L200.4 329.1 L200.8 329.9 L201.2 330.2 L201.6 330.5 L202.0 330.6 L202.4 330.6 L202.8 330.6 L203.2 330.6 L203.6 330.5 L204.0 330.3 L204.4 330.0 L204.8 329.6 L205.2 328.8 L205.6 327.6 L206.0 325.5 L206.4 322.4 L206.8 318.0 L207.2 312.4 L207.6 306.1 L208.0 300.1 L208.4 296.2 L208.8 296.3 L209.2 300.1 L209.6 306.1 L210.0 312.5 L210.4 318.1 L210.8 322.5 L211.2 325.6 L211.6 327.7 L212.0 329.0 L212.4 329.8 L212.8 330.2 L213.2 330.6 L213.6 330.8 L214.0 330.9 L214.4 331.1 L214.8 331.1 L215.2 331.2 L215.6 331.2 L216.0 331.3 L216.4 331.3 L216.8 331.2 L217.2 331.2 L217.6 331.1 L218.0 331.0 L218.4 330.9 L218.8 330.7 L219.2 330.4 L219.6 329.9 L220.0 329.2 L220.4 328.1 L220.8 326.3 L221.2 323.7 L221.6 320.1 L222.0 315.6 L222.4 310.6 L222.8 305.7 L223.2 302.2 L223.6 301.4 L224.0 303.7 L224.4 308.1 L224.8 313.2 L225.2 318.0 L225.6 322.1 L226.0 325.1 L226.4 327.3 L226.8 328.8 L227.2 329.7 L227.6 330.3 L228.0 330.7 L228.4 330.9 L228.8 331.1 L229.2 331.2 L229.6 331.3 L230.0 331.4 L230.4 331.4 L230.8 331.5 L231.2 331.5 L231.6 331.5 L232.0 331.4 L232.4 331.4 L232.8 331.3 L233.2 331.1 L233.6 330.9 L234.0 330.6 L234.4 330.0 L234.8 328.8 L235.2 326.8 L235.6 323.4 L236.0 318.6 L236.4 312.6 L236.8 307.2 L237.2 304.8 L237.6 307.2 L238.0 312.7 L238.4 318.6 L238.8 323.5 L239.2 326.9 L239.6 328.9 L240.0 330.1 L240.4 330.7 L240.8 331.1 L241.2 331.3 L241.6 331.4 L242.0 331.6 L242.4 331.6 L242.8 331.7 L243.2 331.7 L243.6 331.7 L244.0 331.7 L244.4 331.6 L244.8 331.4 L245.2 331.2 L245.6 330.7 L246.0 329.9 L246.4 328.8 L246.8 327.4 L247.2 325.7 L247.6 324.1 L248.0 323.3 L248.4 323.6 L248.8 324.8 L249.2 326.5 L249.6 328.1 L250.0 329.3 L250.4 330.2 L250.8 330.8 L251.2 331.1 L251.6 331.1 L252.0 331.0 L252.4 330.6 L252.8 329.9 L253.2 328.8 L253.6 327.3 L254.0 325.3 L254.4 323.3 L254.8 321.8 L255.2 321.5 L255.6 322.5 L256.0 324.4 L256.4 326.5 L256.8 328.3 L257.2 329.7 L257.6 330.7 L258.0 331.3 L258.4 331.6 L258.8 331.9 L259.2 332.0 L259.6 332.1 L260.0 332.2 L260.4 332.2 L260.8 332.3 L261.2 332.3 L261.6 332.4 L262.0 332.4"/>
<path d="M166.0 332.3 L166.4 332.2 L166.8 332.2 L167.2 332.2 L167.6 332.1 L168.0 332.1 L168.4 332.0 L168.8 332.0 L169.2 331.9 L169.6 331.8 L170.0 331.7 L170.4 331.6 L170.8 331.5 L171.2 331.3 L171.6 331.1 L172.0 330.9 L172.4 330.5 L172.8 329.9 L173.2 329.0 L173.6 327.4 L174.0 324.6 L174.4 319.9 L174.8 313.3 L175.2 305.2 L175.6 297.7 L176.0 294.7 L176.4 297.2 L176.8 304.2 L177.2 311.6 L177.6 317.2 L178.0 319.9 L178.4 319.5 L178.8 316.0 L179.2 309.8 L179.6 302.2 L180.0 295.8 L180.4 294.7 L180.8 299.1 L181.2 307.0 L181.6 314.9 L182.0 321.0 L182.4 325.1 L182.8 327.5 L183.2 328.9 L183.6 329.6 L184.0 330.0 L184.4 330.2 L184.8 330.4 L185.2 330.4 L185.6 330.4 L186.0 330.4 L186.4 330.2 L186.8 329.9 L187.2 329.3 L187.6 328.2 L188.0 326.5 L188.4 323.7 L188.8 319.7 L189.2 314.6 L189.6 309.1 L190.0 304.5 L190.4 302.6 L190.8 304.5 L191.2 309.1 L191.6 314.7 L192.0 319.7 L192.4 323.7 L192.8 326.5 L193.2 328.3 L193.6 329.4 L194.0 330.0 L194.4 330.3 L194.8 330.5 L195.2 330.6 L195.6 330.6 L196.0 330.5 L196.4 330.2 L196.8 329.8 L197.2 329.0 L197.6 327.5 L198.0 325.3 L198.4 322.1 L198.8 318.0 L199.2 313.5 L199.6 309.7 L200.0 308.2 L200.4 309.8 L200.8 313.6 L201.2 318.1 L201.6 322.3 L202.0 325.6 L202.4 327.9 L202.8 329.4 L203.2 330.2 L203.6 330.8 L204.0 331.1 L204.4 331.4 L204.8 331.5 L205.2 331.6 L205.6 331.7 L206.0 331.8 L206.4 331.9 L206.8 331.9 L207.2 332.0 L207.6 332.0 L208.0 332.0 L208.4 332.1 L208.8 332.1 L209.2 332.1 L209.6 332.1 L210.0 332.1 L210.4 332.1 L210.8 332.1 L211.2 332.1 L211.6 332.1 L212.0 332.0 L212.4 332.0 L212.8 332.0 L213.2 331.9 L213.6 331.9 L214.0 331.8 L214.4 331.7 L214.8 331.6 L215.2 331.4 L215.6 331.2 L216.0 330.9 L216.4 330.4 L216.8 329.4 L217.2 327.7 L217.6 324.8 L218.0 320.3 L218.4 314.3 L218.8 307.8 L219.2 303.1 L219.6 303.1 L220.0 307.8 L220.4 314.3 L220.8 320.3 L221.2 324.8 L221.6 327.7 L222.0 329.4 L222.4 330.4 L222.8 330.9 L223.2 331.2 L223.6 331.4 L224.0 331.6 L224.4 331.7 L224.8 331.8 L225.2 331.8 L225.6 331.9 L226.0 331.9 L226.4 332.0 L226.8 332.0 L227.2 332.0 L227.6 332.1 L228.0 332.1 L228.4 332.1 L228.8 332.1 L229.2 332.1 L229.6 332.1 L230.0 332.1 L230.4 332.1 L230.8 332.1 L231.2 332.0 L231.6 332.0 L232.0 332.0 L232.4 332.0 L232.8 331.9 L233.2 331.9 L233.6 331.9 L234.0 331.8 L234.4 331.8 L234.8 331.7 L235.2 331.6 L235.6 331.5 L236.0 331.4 L236.4 331.3 L236.8 331.2 L237.2 331.0 L237.6 330.8 L238.0 330.5 L238.4 330.1 L238.8 329.4 L239.2 328.5 L239.6 327.1 L240.0 325.1 L240.4 322.3 L240.8 318.9 L241.2 314.9 L241.6 310.9 L242.0 307.6 L242.4 305.7 L242.8 304.9 L243.2 304.4 L243.6 303.6 L244.0 304.1 L244.4 306.3 L244.8 308.1 L245.2 308.4 L245.6 307.5 L246.0 306.3 L246.4 305.6 L246.8 305.8 L247.2 307.0 L247.6 308.8 L248.0 310.9 L248.4 312.8 L248.8 314.6 L249.2 316.1 L249.6 317.4 L250.0 318.8 L250.4 320.4 L250.8 322.1 L251.2 323.7 L251.6 325.3 L252.0 326.7 L252.4 327.9 L252.8 328.8 L253.2 329.6 L253.6 330.2 L254.0 330.6 L254.4 330.9 L254.8 331.2 L255.2 331.3 L255.6 331.5 L256.0 331.6 L256.4 331.7 L256.8 331.8 L257.2 331.8 L257.6 331.9 L258.0 332.0 L258.4 332.0 L258.8 332.1 L259.2 332.1 L259.6 332.1 L260.0 332.2 L260.4 332.2 L260.8 332.2 L261.2 332.2 L261.6 332.3 L262.0 332.3"/>
<path d="M166.0 331.7 L166.4 331.4 L166.8 331.1 L167.2 330.5 L167.6 329.6 L168.0 328.2 L168.4 326.2 L168.8 323.5 L169.2 320.4 L169.6 317.4 L170.0 315.1 L170.4 314.6 L170.8 316.1 L171.2 318.8 L171.6 322.0 L172.0 324.9 L172.4 327.2 L172.8 328.9 L173.2 330.0 L173.6 330.7 L174.0 331.1 L174.4 331.3 L174.8 331.5 L175.2 331.6 L175.6 331.6 L176.0 331.7 L176.4 331.7 L176.8 331.7 L177.2 331.7 L177.6 331.6 L178.0 331.6 L178.4 331.4 L178.8 331.3 L179.2 331.1 L179.6 330.7 L180.0 330.2 L180.4 329.1 L180.8 327.4 L181.2 324.6 L181.6 320.6 L182.0 315.6 L182.4 310.4 L182.8 306.9 L183.2 306.9 L183.6 310.4 L184.0 315.5 L184.4 320.5 L184.8 324.6 L185.2 327.3 L185.6 329.1 L186.0 330.1 L186.4 330.6 L186.8 331.0 L187.2 331.2 L187.6 331.3 L188.0 331.4 L188.4 331.4 L188.8 331.5 L189.2 331.5 L189.6 331.4 L190.0 331.3 L190.4 331.2 L190.8 330.9 L191.2 330.5 L191.6 330.0 L192.0 329.2 L192.4 328.2 L192.8 327.0 L193.2 325.6 L193.6 324.0 L194.0 322.4 L194.4 321.2 L194.8 320.4 L195.2 320.4 L195.6 321.1 L196.0 322.4 L196.4 324.0 L196.8 325.5 L197.2 326.9 L197.6 328.2 L198.0 329.1 L198.4 329.9 L198.8 330.4 L199.2 330.8 L199.6 331.0 L200.0 331.1 L200.4 331.2 L200.8 331.2 L201.2 331.2 L201.6 331.1 L202.0 330.9 L202.4 330.6 L202.8 330.2 L203.2 329.4 L203.6 328.0 L204.0 325.9 L204.4 322.9 L204.8 319.1 L205.2 315.0 L205.6 311.5 L206.0 310.0 L206.4 311.4 L206.8 314.8 L207.2 318.8 L207.6 322.4 L208.0 325.2 L208.4 326.9 L208.8 327.8 L209.2 328.0 L209.6 327.6 L210.0 326.9 L210.4 326.0 L210.8 324.9 L211.2 323.9 L211.6 323.2 L212.0 323.0 L212.4 323.4 L212.8 324.2 L213.2 325.3 L213.6 326.6 L214.0 327.7 L214.4 328.8 L214.8 329.6 L215.2 330.3 L215.6 330.8 L216.0 331.2 L216.4 331.4 L216.8 331.6 L217.2 331.8 L217.6 331.8 L218.0 331.9 L218.4 331.9 L218.8 331.9 L219.2 332.0 L219.6 331.9 L220.0 331.9 L220.4 331.9 L220.8 331.8 L221.2 331.7 L221.6 331.5 L222.0 331.2 L222.4 330.6 L222.8 329.8 L223.2 328.6 L223.6 327.1 L224.0 325.3 L224.4 323.7 L224.8 322.6 L225.2 322.7 L225.6 323.7 L226.0 325.4 L226.4 327.1 L226.8 328.7 L227.2 329.9 L227.6 330.8 L228.0 331.3 L228.4 331.7 L228.8 331.9 L229.2 332.0 L229.6 332.1 L230.0 332.2 L230.4 332.3 L230.8 332.3 L231.2 332.4 L231.6 332.4 L232.0 332.4 L232.4 332.4 L232.8 332.4 L233.2 332.5 L233.6 332.5 L234.0 332.5 L234.4 332.5 L234.8 332.5 L235.2 332.5 L235.6 332.5 L236.0 332.5 L236.4 332.6 L236.8 332.6 L237.2 332.6 L237.6 332.6 L238.0 332.6 L238.4 332.6 L238.8 332.6 L239.2 332.6 L239.6 332.6 L240.0 332.6"/>
<path d="M170.0 332.3 L170.4 332.3 L170.8 332.2 L171.2 332.2 L171.6 332.2 L172.0 332.2 L172.4 332.1 L172.8 332.1 L173.2 332.1 L173.6 332.0 L174.0 332.0 L174.4 331.9 L174.8 331.9 L175.2 331.8 L175.6 331.7 L176.0 331.6 L176.4 331.5 L176.8 331.3 L177.2 331.1 L177.6 330.9 L178.0 330.5 L178.4 330.1 L178.8 329.6 L179.2 328.9 L179.6 328.0 L180.0 327.1 L180.4 326.0 L180.8 324.7 L181.2 323.5 L181.6 322.2 L182.0 321.0 L182.4 320.1 L182.8 319.6 L183.2 319.4 L183.6 319.7 L184.0 320.3 L184.4 321.1 L184.8 321.9 L185.2 322.6 L185.6 323.2 L186.0 323.5 L186.4 323.5 L186.8 323.1 L187.2 322.4 L187.6 321.4 L188.0 320.2 L188.4 318.8 L188.8 317.4 L189.2 316.0 L189.6 314.9 L190.0 314.1 L190.4 313.7 L190.8 313.6 L191.2 313.5 L191.6 313.4 L192.0 313.2 L192.4 312.8 L192.8 312.3 L193.2 311.8 L193.6 311.6 L194.0 312.0 L194.4 313.0 L194.8 314.5 L195.2 316.3 L195.6 318.1 L196.0 319.6 L196.4 320.7 L196.8 321.4 L197.2 321.5 L197.6 321.3 L198.0 320.9 L198.4 320.4 L198.8 320.2 L199.2 320.6 L199.6 321.4 L200.0 322.6 L200.4 324.1 L200.8 325.4 L201.2 326.7 L201.6 327.8 L202.0 328.6 L202.4 329.1 L202.8 329.5 L203.2 329.6 L203.6 329.5 L204.0 329.2 L204.4 328.6 L204.8 327.9 L205.2 327.0 L205.6 326.0 L206.0 325.0 L206.4 324.2 L206.8 323.7 L207.2 323.7 L207.6 324.2 L208.0 325.1 L208.4 326.0 L208.8 326.9 L209.2 327.7 L209.6 328.3 L210.0 328.6 L210.4 328.6 L210.8 328.4 L211.2 328.0 L211.6 327.4 L212.0 326.7 L212.4 326.2 L212.8 325.9 L213.2 325.9 L213.6 326.3 L214.0 327.0 L214.4 327.8 L214.8 328.6 L215.2 329.3 L215.6 330.0 L216.0 330.4 L216.4 330.8 L216.8 331.1 L217.2 331.2 L217.6 331.2 L218.0 331.1 L218.4 331.0 L218.8 330.7 L219.2 330.3 L219.6 329.8 L220.0 329.1 L220.4 328.4 L220.8 327.6 L221.2 326.9 L221.6 326.4 L222.0 326.2 L222.4 326.4 L222.8 326.9 L223.2 327.6 L223.6 328.4 L224.0 329.1 L224.4 329.7 L224.8 330.1 L225.2 330.4 L225.6 330.5 L226.0 330.5 L226.4 330.2 L226.8 329.8 L227.2 329.3 L227.6 328.7 L228.0 328.1 L228.4 327.6 L228.8 327.4 L229.2 327.4 L229.6 327.7 L230.0 328.3 L230.4 328.9 L230.8 329.6 L231.2 330.2 L231.6 330.8 L232.0 331.2 L232.4 331.5 L232.8 331.8 L233.2 331.9 L233.6 332.1 L234.0 332.2 L234.4 332.2 L234.8 332.3 L235.2 332.3 L235.6 332.4 L236.0 332.4 L236.4 332.4 L236.8 332.4 L237.2 332.4 L237.6 332.4 L238.0 332.5 L238.4 332.5 L238.8 332.5 L239.2 332.5 L239.6 332.5 L240.0 332.5"/>
<path d="M160.0 332.3 L160.4 332.3 L160.8 332.3 L161.2 332.2 L161.6 332.2 L162.0 332.1 L162.4 332.1 L162.8 332.0 L163.2 331.9 L163.6 331.8 L164.0 331.6 L164.4 331.4 L164.8 331.0 L165.2 330.4 L165.6 329.7 L166.0 328.8 L166.4 327.7 L166.8 326.4 L167.2 325.3 L167.6 324.4 L168.0 324.0 L168.4 324.3 L168.8 325.1 L169.2 326.1 L169.6 327.1 L170.0 328.1 L170.4 328.8 L170.8 329.2 L171.2 329.3 L171.6 329.0 L172.0 328.4 L172.4 327.3 L172.8 325.8 L173.2 323.8 L173.6 321.5 L174.0 319.2 L174.4 317.1 L174.8 315.9 L175.2 315.9 L175.6 317.0 L176.0 318.9 L176.4 321.1 L176.8 323.2 L177.2 324.9 L177.6 326.0 L178.0 326.5 L178.4 326.2 L178.8 325.1 L179.2 323.0 L179.6 320.2 L180.0 316.8 L180.4 313.6 L180.8 311.5 L181.2 311.4 L181.6 313.4 L182.0 316.4 L182.4 319.5 L182.8 322.0 L183.2 323.6 L183.6 324.1 L184.0 323.6 L184.4 322.5 L184.8 320.9 L185.2 319.2 L185.6 317.9 L186.0 317.5 L186.4 318.2 L186.8 319.7 L187.2 321.7 L187.6 323.8 L188.0 325.8 L188.4 327.4 L188.8 328.6 L189.2 329.5 L189.6 330.1 L190.0 330.6 L190.4 330.8 L190.8 331.0 L191.2 331.1 L191.6 331.1 L192.0 331.1 L192.4 331.1 L192.8 331.0 L193.2 330.8 L193.6 330.4 L194.0 329.8 L194.4 328.8 L194.8 327.3 L195.2 325.1 L195.6 322.4 L196.0 319.2 L196.4 316.3 L196.8 314.4 L197.2 314.4 L197.6 316.2 L198.0 319.2 L198.4 322.3 L198.8 325.0 L199.2 327.1 L199.6 328.6 L200.0 329.5 L200.4 329.9 L200.8 330.0 L201.2 329.7 L201.6 329.0 L202.0 327.9 L202.4 326.3 L202.8 324.4 L203.2 322.4 L203.6 320.7 L204.0 320.1 L204.4 320.8 L204.8 322.5 L205.2 324.6 L205.6 326.6 L206.0 328.3 L206.4 329.5 L206.8 330.4 L207.2 330.9 L207.6 331.2 L208.0 331.4 L208.4 331.6 L208.8 331.6 L209.2 331.6 L209.6 331.6 L210.0 331.6 L210.4 331.6 L210.8 331.4 L211.2 331.2 L211.6 330.9 L212.0 330.3 L212.4 329.6 L212.8 328.6 L213.2 327.4 L213.6 326.0 L214.0 324.5 L214.4 323.3 L214.8 322.6 L215.2 322.6 L215.6 323.3 L216.0 324.6 L216.4 326.1 L216.8 327.5 L217.2 328.7 L217.6 329.7 L218.0 330.5 L218.4 331.1 L218.8 331.4 L219.2 331.7 L219.6 331.9 L220.0 332.0 L220.4 332.1 L220.8 332.1 L221.2 332.2 L221.6 332.2 L222.0 332.2 L222.4 332.3 L222.8 332.3 L223.2 332.3 L223.6 332.3 L224.0 332.4 L224.4 332.4 L224.8 332.4 L225.2 332.4 L225.6 332.4 L226.0 332.4 L226.4 332.4 L226.8 332.4 L227.2 332.4 L227.6 332.4 L228.0 332.4 L228.4 332.4 L228.8 332.4 L229.2 332.4 L229.6 332.4 L230.0 332.4 L230.4 332.4 L230.8 332.4 L231.2 332.4 L231.6 332.4 L232.0 332.4 L232.4 332.3 L232.8 332.3 L233.2 332.3 L233.6 332.2 L234.0 332.2 L234.4 332.2 L234.8 332.1 L235.2 332.0 L235.6 331.9 L236.0 331.8 L236.4 331.6 L236.8 331.3 L237.2 330.8 L237.6 329.9 L238.0 328.6 L238.4 326.7 L238.8 324.2 L239.2 321.6 L239.6 319.4 L240.0 318.5 L240.4 319.4 L240.8 321.6 L241.2 324.2 L241.6 326.6 L242.0 328.4 L242.4 329.8 L242.8 330.6 L243.2 331.1 L243.6 331.3 L244.0 331.5 L244.4 331.6 L244.8 331.6 L245.2 331.5 L245.6 331.4 L246.0 331.2 L246.4 330.9 L246.8 330.4 L247.2 329.6 L247.6 328.6 L248.0 327.2 L248.4 325.6 L248.8 323.9 L249.2 322.2 L249.6 321.0 L250.0 320.5 L250.4 321.0 L250.8 322.3 L251.2 324.0 L251.6 325.7 L252.0 327.4 L252.4 328.7 L252.8 329.8 L253.2 330.6 L253.6 331.1 L254.0 331.5 L254.4 331.7 L254.8 331.9 L255.2 332.0 L255.6 332.1 L256.0 332.2 L256.4 332.2 L256.8 332.3 L257.2 332.3 L257.6 332.3 L258.0 332.4 L258.4 332.4 L258.8 332.4 L259.2 332.4 L259.6 332.5 L260.0 332.5 L260.4 332.5 L260.8 332.5 L261.2 332.5 L261.6 332.5 L262.0 332.5"/>
<path d="M257.0 331.7 L258.5 328.0 L261.0 325.4 L263.0 327.0 L265.2 328.6 L267.4 327.0 L269.5 327.5 L272.7 326.5 L274.8 327.0 L277.0 324.9 L279.1 324.3 L281.0 322.4 L282.3 323.8 L283.9 325.9 L285.5 327.0 L287.1 325.6 L288.7 328.1 L290.3 330.2 L291.9 330.8 L293.5 329.5 L295.1 329.1 L296.7 330.2 L298.3 330.8 L299.9 331.3 L301.5 329.1 L303.1 326.5 L304.2 325.4 L305.3 326.5 L306.3 325.9 L307.4 324.3 L308.5 322.2 L309.5 320.1 L311.1 318.5 L312.7 317.4 L313.8 316.9 L314.9 318.5 L315.6 321.1 L316.5 324.3 L317.5 327.5 L319.1 328.6 L320.7 330.8 L322.4 332.0 L324.0 332.7"/>
<path d="M257.0 332.2 L260.8 329.7 L262.0 328.1 L265.2 329.7 L268.4 328.6 L271.6 329.1 L274.8 327.5 L278.0 325.4 L280.2 323.8 L281.8 325.9 L283.4 329.1 L285.0 330.2 L287.5 330.2 L290.0 330.8 L294.0 331.6 L301.5 331.3 L303.6 329.7 L305.8 328.1 L307.9 324.3 L309.5 321.1 L311.1 319.0 L312.2 320.1 L313.3 324.3 L314.9 327.5 L316.5 329.7 L318.1 331.3 L320.0 332.7"/>
<path d="M125.2 384.6 L326.0 384.6"/>
<path d="M144.0 384.5 L144.4 384.5 L144.8 384.4 L145.2 384.4 L145.6 384.4 L146.0 384.4 L146.4 384.3 L146.8 384.2 L147.2 383.9 L147.6 383.5 L148.0 382.9 L148.4 382.5 L148.8 382.6 L149.2 383.2 L149.6 383.7 L150.0 384.0 L150.4 384.2 L150.8 384.3 L151.2 384.3 L151.6 384.3 L152.0 384.3 L152.4 384.3 L152.8 384.3 L153.2 384.3 L153.6 384.3 L154.0 384.3 L154.4 384.3 L154.8 384.3 L155.2 384.2 L155.6 384.2 L156.0 384.2 L156.4 384.2 L156.8 384.1 L157.2 384.1 L157.6 384.0 L158.0 384.0 L158.4 383.9 L158.8 383.8 L159.2 383.7 L159.6 383.6 L160.0 383.4 L160.4 383.0 L160.8 382.4 L161.2 381.3 L161.6 379.6 L162.0 377.3 L162.4 374.6 L162.8 372.4 L163.2 371.8 L163.6 373.1 L164.0 375.6 L164.4 377.9 L164.8 379.7 L165.2 380.8 L165.6 381.1 L166.0 381.0 L166.4 380.2 L166.8 378.8 L167.2 376.7 L167.6 373.8 L168.0 370.6 L168.4 367.6 L168.8 365.9 L169.2 365.5 L169.6 365.2 L170.0 363.8 L170.4 360.6 L170.8 355.7 L171.2 350.2 L171.6 347.0 L172.0 347.0 L172.4 347.6 L172.8 352.9 L173.2 358.8 L173.6 364.1 L174.0 368.3 L174.4 371.2 L174.8 373.2 L175.2 374.8 L175.6 376.1 L176.0 377.3 L176.4 378.5 L176.8 379.6 L177.2 380.5 L177.6 381.3 L178.0 382.0 L178.4 382.5 L178.8 382.9 L179.2 383.1 L179.6 383.4 L180.0 383.5 L180.4 383.6 L180.8 383.7 L181.2 383.8 L181.6 383.9 L182.0 383.9 L182.4 384.0 L182.8 384.1 L183.2 384.1 L183.6 384.1 L184.0 384.1 L184.4 384.2 L184.8 384.2 L185.2 384.2 L185.6 384.2 L186.0 384.3 L186.4 384.3 L186.8 384.3 L187.2 384.3 L187.6 384.3 L188.0 384.4 L188.4 384.4 L188.8 384.4 L189.2 384.4 L189.6 384.4 L190.0 384.4 L190.4 384.4 L190.8 384.4 L191.2 384.4 L191.6 384.4 L192.0 384.4 L192.4 384.4 L192.8 384.4 L193.2 384.5 L193.6 384.5 L194.0 384.5 L194.4 384.5 L194.8 384.5 L195.2 384.5 L195.6 384.5 L196.0 384.5 L196.4 384.5 L196.8 384.5 L197.2 384.5 L197.6 384.5 L198.0 384.5 L198.4 384.5 L198.8 384.5 L199.2 384.5 L199.6 384.5 L200.0 384.5 L200.4 384.5 L200.8 384.5 L201.2 384.5 L201.6 384.5 L202.0 384.5 L202.4 384.5 L202.8 384.5 L203.2 384.5 L203.6 384.5 L204.0 384.5 L204.4 384.5 L204.8 384.5 L205.2 384.5 L205.6 384.5 L206.0 384.5"/>
<path d="M170.0 384.0 L170.4 384.0 L170.8 383.9 L171.2 383.8 L171.6 383.8 L172.0 383.7 L172.4 383.6 L172.8 383.4 L173.2 383.3 L173.6 383.1 L174.0 382.8 L174.4 382.5 L174.8 382.0 L175.2 381.2 L175.6 379.7 L176.0 377.0 L176.4 372.1 L176.8 364.9 L177.2 356.0 L177.6 348.1 L178.0 347.0 L178.4 351.2 L178.8 359.6 L179.2 367.4 L179.6 372.7 L180.0 375.3 L180.4 375.5 L180.8 373.6 L181.2 369.6 L181.6 363.6 L182.0 356.3 L182.4 349.1 L182.8 347.0 L183.2 347.0 L183.6 351.2 L184.0 357.6 L184.4 363.0 L184.8 366.2 L185.2 367.3 L185.6 366.8 L186.0 365.6 L186.4 364.8 L186.8 365.1 L187.2 366.3 L187.6 367.7 L188.0 368.8 L188.4 369.2 L188.8 369.1 L189.2 369.1 L189.6 369.7 L190.0 371.4 L190.4 373.7 L190.8 376.1 L191.2 378.2 L191.6 379.9 L192.0 381.2 L192.4 382.1 L192.8 382.6 L193.2 383.0 L193.6 383.2 L194.0 383.4 L194.4 383.6 L194.8 383.7 L195.2 383.8 L195.6 383.8 L196.0 383.9 L196.4 384.0 L196.8 384.0 L197.2 384.1 L197.6 384.1 L198.0 384.1 L198.4 384.2 L198.8 384.2 L199.2 384.2 L199.6 384.2 L200.0 384.2 L200.4 384.3 L200.8 384.3 L201.2 384.3 L201.6 384.3 L202.0 384.3 L202.4 384.4 L202.8 384.4 L203.2 384.4 L203.6 384.4 L204.0 384.4 L204.4 384.4 L204.8 384.4 L205.2 384.4 L205.6 384.4 L206.0 384.4"/>
<path d="M172.0 384.2 L172.4 384.2 L172.8 384.2 L173.2 384.1 L173.6 384.1 L174.0 384.0 L174.4 383.9 L174.8 383.8 L175.2 383.6 L175.6 383.4 L176.0 383.1 L176.4 382.7 L176.8 382.0 L177.2 380.6 L177.6 377.7 L178.0 372.3 L178.4 364.2 L178.8 354.9 L179.2 348.8 L179.6 351.0 L180.0 359.5 L180.4 368.6 L180.8 375.3 L181.2 379.3 L181.6 381.4 L182.0 382.4 L182.4 382.9 L182.8 383.2 L183.2 383.4 L183.6 383.5 L184.0 383.7 L184.4 383.7 L184.8 383.8 L185.2 383.8 L185.6 383.9 L186.0 383.9 L186.4 383.9 L186.8 383.9 L187.2 383.9 L187.6 383.8 L188.0 383.8 L188.4 383.7 L188.8 383.6 L189.2 383.5 L189.6 383.4 L190.0 383.1 L190.4 382.8 L190.8 382.2 L191.2 381.3 L191.6 380.0 L192.0 378.1 L192.4 375.5 L192.8 372.3 L193.2 368.8 L193.6 365.7 L194.0 363.7 L194.4 363.7 L194.8 365.6 L195.2 368.8 L195.6 372.2 L196.0 375.3 L196.4 377.9 L196.8 379.7 L197.2 380.9 L197.6 381.5 L198.0 381.6 L198.4 381.2 L198.8 380.5 L199.2 379.7 L199.6 379.0 L200.0 378.9 L200.4 379.5 L200.8 380.6 L201.2 381.6 L201.6 382.5 L202.0 383.1 L202.4 383.5 L202.8 383.8 L203.2 383.9 L203.6 384.1 L204.0 384.1 L204.4 384.2 L204.8 384.2 L205.2 384.2 L205.6 384.3 L206.0 384.3"/>
<path d="M207.0 384.6 L210.0 384.0 L211.4 373.4 L212.8 360.6 L214.2 355.3 L215.2 355.0 L216.3 359.2 L217.4 366.3 L218.4 368.4 L219.4 367.0 L220.6 373.4 L222.0 380.4 L224.1 383.0 L226.2 381.8 L227.6 376.2 L228.8 363.5 L229.8 352.1 L230.6 347.2 L231.5 353.6 L232.3 366.3 L233.3 379.0 L234.7 383.0 L235.8 381.8 L236.7 373.4 L237.5 357.8 L238.5 347.2 L239.4 355.0 L240.4 369.1 L241.2 380.4 L242.1 377.6 L242.9 370.5 L243.8 364.9 L244.6 362.3 L245.7 364.2 L246.9 367.0 L248.0 369.8 L249.1 371.9 L250.0 369.1 L250.8 367.7 L251.7 370.5 L252.5 376.2 L253.7 380.4 L254.8 379.0 L255.9 375.5 L257.1 373.4 L257.9 373.4 L258.7 376.2 L260.2 381.8 L261.6 383.0 L263.0 380.4 L264.1 378.3 L265.1 377.6 L266.1 379.7 L267.2 380.4 L268.4 379.7 L269.5 380.1 L270.8 381.8 L272.2 384.0 L273.6 381.1 L275.0 379.7 L276.4 379.7 L277.8 378.3 L279.3 376.9 L280.0 376.5 L281.1 378.3 L282.1 380.4 L283.1 379.7 L284.2 376.9 L285.3 374.1 L286.5 373.1 L287.6 374.8 L288.7 379.0 L289.9 382.6 L291.3 384.6"/>
<path d="M297.6 384.6 L299.3 383.0 L301.0 384.6"/>
<path d="M306.3 384.6 L309.1 381.8 L310.3 377.6 L311.4 375.5 L312.5 378.3 L313.4 380.4 L314.5 374.8 L315.6 369.8 L316.5 369.1 L317.3 371.9 L318.3 379.0 L319.3 384.0 L320.5 384.0 L321.6 380.4 L322.7 377.9 L323.9 379.7 L325.0 384.0 L325.8 384.6"/>
<path d="M166.0 435.8 L167.0 431.6 L168.1 428.2 L169.1 429.9 L170.1 429.4 L171.1 424.0 L172.0 410.4 L172.8 400.2 L173.5 399.3 L174.2 403.6 L174.9 399.3 L175.5 405.3 L176.2 417.2 L177.1 424.0 L177.9 418.9 L178.8 424.0 L179.6 434.1 L180.6 436.2 L182.0 436.6"/>
<path d="M171.5 436.6 L172.0 435.8 L173.2 424.0 L174.2 407.0 L175.0 399.3 L175.9 407.0 L176.9 424.0 L177.9 435.0 L178.8 436.6"/>
<path d="M176.0 436.6 L176.6 435.8 L177.6 424.0 L178.6 412.1 L179.6 403.6 L180.6 399.3 L181.6 405.3 L182.7 417.2 L183.7 429.0 L184.7 435.5 L186.4 436.2 L187.3 435.8 L188.4 427.4 L189.5 412.1 L190.3 405.3 L191.0 403.9 L191.7 408.7 L192.5 424.0 L193.4 433.3 L194.2 434.5 L200.0 435.1 L205.0 435.6 L211.9 436.2 L212.5 435.8 L213.6 429.0 L214.6 418.9 L215.6 416.3 L216.5 419.7 L217.3 430.7 L218.3 435.8 L222.0 436.2 L255.6 436.2 L256.6 432.4 L257.6 428.2 L258.4 427.4 L259.5 429.9 L260.7 435.0 L261.7 436.6"/>
</g>
<g stroke="#E1AA32" stroke-width="1.25">
<path d="M325 331.9 H621 M292 384.1 H586.2"/>
<path d="M160.0 331.5 L160.4 331.5 L160.8 331.4 L161.2 331.4 L161.6 331.3 L162.0 331.1 L162.4 331.0 L162.8 330.7 L163.2 330.3 L163.6 329.7 L164.0 329.0 L164.4 328.2 L164.8 327.3 L165.2 326.4 L165.6 325.8 L166.0 325.5 L166.4 325.7 L166.8 326.2 L167.2 327.0 L167.6 327.7 L168.0 328.2 L168.4 328.5 L168.8 328.4 L169.2 327.9 L169.6 326.9 L170.0 325.5 L170.4 324.2 L170.8 323.3 L171.2 323.3 L171.6 324.2 L172.0 325.6 L172.4 326.9 L172.8 327.9 L173.2 328.5 L173.6 328.5 L174.0 327.9 L174.4 326.8 L174.8 325.2 L175.2 323.4 L175.6 321.9 L176.0 321.3 L176.4 322.0 L176.8 323.6 L177.2 325.4 L177.6 327.2 L178.0 328.5 L178.4 329.4 L178.8 330.0 L179.2 330.3 L179.6 330.4 L180.0 330.3 L180.4 330.1 L180.8 329.6 L181.2 328.8 L181.6 327.7 L182.0 326.4 L182.4 325.2 L182.8 324.3 L183.2 324.3 L183.6 325.1 L184.0 326.3 L184.4 327.4 L184.8 328.3 L185.2 328.8 L185.6 328.8 L186.0 328.2 L186.4 327.2 L186.8 325.8 L187.2 324.1 L187.6 322.7 L188.0 322.1 L188.4 322.6 L188.8 323.9 L189.2 325.4 L189.6 326.6 L190.0 327.2 L190.4 327.3 L190.8 326.8 L191.2 326.0 L191.6 325.2 L192.0 324.9 L192.4 325.3 L192.8 326.3 L193.2 327.4 L193.6 328.3 L194.0 328.9 L194.4 329.1 L194.8 328.9 L195.2 328.2 L195.6 327.1 L196.0 325.7 L196.4 324.3 L196.8 323.4 L197.2 323.4 L197.6 324.3 L198.0 325.7 L198.4 327.2 L198.8 328.4 L199.2 329.2 L199.6 329.7 L200.0 329.8 L200.4 329.6 L200.8 329.0 L201.2 328.1 L201.6 326.7 L202.0 325.1 L202.4 323.5 L202.8 322.4 L203.2 322.4 L203.6 323.5 L204.0 325.1 L204.4 326.6 L204.8 327.9 L205.2 328.7 L205.6 329.1 L206.0 328.9 L206.4 328.3 L206.8 327.5 L207.2 326.4 L207.6 325.5 L208.0 325.1 L208.4 325.5 L208.8 326.5 L209.2 327.6 L209.6 328.5 L210.0 329.2 L210.4 329.6 L210.8 329.7 L211.2 329.4 L211.6 329.0 L212.0 328.3 L212.4 327.4 L212.8 326.4 L213.2 325.4 L213.6 324.7 L214.0 324.5 L214.4 324.8 L214.8 325.5 L215.2 326.5 L215.6 327.5 L216.0 328.4 L216.4 329.2 L216.8 329.8 L217.2 330.2 L217.6 330.4 L218.0 330.6 L218.4 330.6 L218.8 330.4 L219.2 330.2 L219.6 329.8 L220.0 329.2 L220.4 328.6 L220.8 327.9 L221.2 327.2 L221.6 326.7 L222.0 326.5 L222.4 326.7 L222.8 327.2 L223.2 327.8 L223.6 328.5 L224.0 329.1 L224.4 329.6 L224.8 329.8 L225.2 329.9 L225.6 329.8 L226.0 329.5 L226.4 329.1 L226.8 328.5 L227.2 328.0 L227.6 327.6 L228.0 327.5 L228.4 327.7 L228.8 328.1 L229.2 328.7 L229.6 329.3 L230.0 329.8 L230.4 330.2 L230.8 330.6 L231.2 330.8 L231.6 331.0 L232.0 331.1 L232.4 331.1 L232.8 331.0 L233.2 330.9 L233.6 330.6 L234.0 330.1 L234.4 329.5 L234.8 328.6 L235.2 327.7 L235.6 326.9 L236.0 326.6 L236.4 326.9 L236.8 327.6 L237.2 328.5 L237.6 329.4 L238.0 329.9 L238.4 330.3 L238.8 330.4 L239.2 330.4 L239.6 330.1 L240.0 329.8 L240.4 329.3 L240.8 328.7 L241.2 328.2 L241.6 327.8 L242.0 327.6 L242.4 327.8 L242.8 328.2 L243.2 328.8 L243.6 329.4 L244.0 329.9 L244.4 330.4 L244.8 330.7 L245.2 330.9 L245.6 331.1 L246.0 331.1 L246.4 331.1 L246.8 331.1 L247.2 330.9 L247.6 330.7 L248.0 330.4 L248.4 330.0 L248.8 329.6 L249.2 329.1 L249.6 328.9 L250.0 328.7 L250.4 328.9 L250.8 329.2 L251.2 329.6 L251.6 330.1 L252.0 330.5 L252.4 330.8 L252.8 331.1 L253.2 331.3 L253.6 331.4 L254.0 331.5 L254.4 331.6 L254.8 331.6 L255.2 331.7 L255.6 331.7 L256.0 331.7 L256.4 331.7 L256.8 331.7 L257.2 331.8 L257.6 331.8 L258.0 331.8"/>
<path d="M166.0 331.7 L166.4 331.7 L166.8 331.6 L167.2 331.5 L167.6 331.5 L168.0 331.4 L168.4 331.2 L168.8 331.1 L169.2 330.9 L169.6 330.6 L170.0 330.2 L170.4 329.5 L170.8 328.3 L171.2 326.6 L171.6 324.1 L172.0 320.9 L172.4 317.1 L172.8 313.3 L173.2 310.4 L173.6 309.8 L174.0 311.5 L174.4 314.8 L174.8 318.4 L175.2 321.7 L175.6 324.1 L176.0 325.4 L176.4 325.6 L176.8 324.7 L177.2 322.9 L177.6 320.6 L178.0 318.5 L178.4 317.3 L178.8 317.9 L179.2 320.0 L179.6 322.6 L180.0 325.2 L180.4 327.3 L180.8 328.8 L181.2 329.8 L181.6 330.5 L182.0 330.8 L182.4 331.1 L182.8 331.2 L183.2 331.4 L183.6 331.4 L184.0 331.5 L184.4 331.6 L184.8 331.6 L185.2 331.7 L185.6 331.7 L186.0 331.7 L186.4 331.7 L186.8 331.8 L187.2 331.8 L187.6 331.8 L188.0 331.8 L188.4 331.8 L188.8 331.8 L189.2 331.8 L189.6 331.8 L190.0 331.8 L190.4 331.8 L190.8 331.8 L191.2 331.8 L191.6 331.8 L192.0 331.8 L192.4 331.8 L192.8 331.8 L193.2 331.8 L193.6 331.8 L194.0 331.8 L194.4 331.8 L194.8 331.7 L195.2 331.7 L195.6 331.7 L196.0 331.6 L196.4 331.6 L196.8 331.6 L197.2 331.5 L197.6 331.5 L198.0 331.4 L198.4 331.4 L198.8 331.3 L199.2 331.2 L199.6 331.1 L200.0 330.9 L200.4 330.7 L200.8 330.4 L201.2 330.1 L201.6 329.5 L202.0 328.6 L202.4 327.3 L202.8 325.4 L203.2 322.8 L203.6 319.6 L204.0 315.9 L204.4 312.1 L204.8 308.9 L205.2 307.1 L205.6 307.2 L206.0 309.1 L206.4 311.8 L206.8 314.5 L207.2 316.7 L207.6 318.1 L208.0 318.8 L208.4 319.1 L208.8 319.4 L209.2 320.1 L209.6 321.3 L210.0 322.8 L210.4 324.5 L210.8 326.1 L211.2 327.4 L211.6 328.5 L212.0 329.3 L212.4 329.9 L212.8 330.3 L213.2 330.6 L213.6 330.8 L214.0 330.9 L214.4 331.0 L214.8 331.1 L215.2 331.1 L215.6 331.1 L216.0 331.1 L216.4 331.1 L216.8 331.1 L217.2 331.0 L217.6 330.9 L218.0 330.8 L218.4 330.5 L218.8 330.2 L219.2 329.7 L219.6 329.1 L220.0 328.2 L220.4 327.2 L220.8 325.9 L221.2 324.6 L221.6 323.1 L222.0 321.8 L222.4 320.7 L222.8 320.1 L223.2 320.1 L223.6 320.7 L224.0 321.8 L224.4 323.2 L224.8 324.7 L225.2 326.1 L225.6 327.3 L226.0 328.4 L226.4 329.2 L226.8 329.9 L227.2 330.4 L227.6 330.8 L228.0 331.0 L228.4 331.2 L228.8 331.4 L229.2 331.5 L229.6 331.6 L230.0 331.6 L230.4 331.7 L230.8 331.7 L231.2 331.8 L231.6 331.8 L232.0 331.8 L232.4 331.8 L232.8 331.9 L233.2 331.9 L233.6 331.9 L234.0 331.9 L234.4 331.9 L234.8 331.9 L235.2 332.0 L235.6 332.0 L236.0 332.0"/>
<path d="M136.0 332.5 L136.4 332.5 L136.8 332.5 L137.2 332.4 L137.6 332.4 L138.0 332.4 L138.4 332.4 L138.8 332.4 L139.2 332.4 L139.6 332.4 L140.0 332.3 L140.4 332.3 L140.8 332.3 L141.2 332.2 L141.6 332.2 L142.0 332.1 L142.4 332.1 L142.8 331.9 L143.2 331.7 L143.6 331.3 L144.0 330.6 L144.4 329.7 L144.8 328.6 L145.2 327.6 L145.6 327.1 L146.0 327.4 L146.4 328.2 L146.8 329.1 L147.2 329.6 L147.6 329.5 L148.0 328.8 L148.4 327.5 L148.8 326.1 L149.2 325.0 L149.6 325.0 L150.0 326.1 L150.4 327.6 L150.8 328.9 L151.2 329.9 L151.6 330.4 L152.0 330.5 L152.4 330.4 L152.8 329.9 L153.2 329.0 L153.6 327.8 L154.0 326.3 L154.4 324.6 L154.8 323.1 L155.2 322.1 L155.6 321.6 L156.0 320.9 L156.4 319.5 L156.8 317.7 L157.2 316.8 L157.6 318.1 L158.0 321.1 L158.4 324.2 L158.8 326.6 L159.2 328.1 L159.6 328.6 L160.0 328.4 L160.4 327.7 L160.8 326.6 L161.2 325.4 L161.6 324.2 L162.0 323.3 L162.4 322.8 L162.8 322.5 L163.2 322.2 L163.6 321.6 L164.0 320.7 L164.4 319.9 L164.8 319.3 L165.2 319.4 L165.6 320.1 L166.0 321.2 L166.4 322.2 L166.8 322.8 L167.2 322.9 L167.6 322.3 L168.0 321.1 L168.4 319.7 L168.8 318.4 L169.2 317.7 L169.6 317.5 L170.0 317.1 L170.4 316.0 L170.8 314.1 L171.2 311.6 L171.6 309.2 L172.0 308.0 L172.4 308.2 L172.8 308.9 L173.2 308.5 L173.6 306.1 L174.0 302.1 L174.4 299.1 L174.8 300.5 L175.2 306.2 L175.6 313.3 L176.0 319.2 L176.4 323.0 L176.8 325.0 L177.2 325.6 L177.6 324.9 L178.0 323.3 L178.4 320.3 L178.8 316.0 L179.2 310.4 L179.6 304.0 L180.0 297.9 L180.4 294.7 L180.8 294.7 L181.2 297.2 L181.6 302.6 L182.0 307.9 L182.4 312.0 L182.8 314.1 L183.2 314.4 L183.6 313.3 L184.0 311.8 L184.4 311.1 L184.8 312.0 L185.2 314.5 L185.6 317.7 L186.0 320.7 L186.4 323.2 L186.8 324.8 L187.2 325.7 L187.6 325.9 L188.0 325.6 L188.4 325.0 L188.8 324.2 L189.2 323.4 L189.6 322.8 L190.0 322.6 L190.4 322.8 L190.8 323.5 L191.2 324.4 L191.6 325.2 L192.0 326.0 L192.4 326.5 L192.8 326.7 L193.2 326.5 L193.6 326.0 L194.0 325.1 L194.4 324.0 L194.8 322.8 L195.2 321.6 L195.6 320.6 L196.0 320.2 L196.4 320.4 L196.8 321.0 L197.2 321.8 L197.6 322.6 L198.0 322.9 L198.4 322.4 L198.8 320.7 L199.2 317.4 L199.6 312.5 L200.0 306.1 L200.4 299.3 L200.8 294.7 L201.2 294.7 L201.6 296.1 L202.0 302.2 L202.4 308.6 L202.8 313.9 L203.2 317.2 L203.6 318.4 L204.0 317.6 L204.4 315.2 L204.8 311.9 L205.2 308.5 L205.6 305.9 L206.0 305.1 L206.4 306.6 L206.8 309.5 L207.2 312.7 L207.6 315.5 L208.0 317.4 L208.4 318.3 L208.8 318.3 L209.2 317.6 L209.6 316.6 L210.0 315.6 L210.4 314.8 L210.8 314.1 L211.2 313.6 L211.6 313.4 L212.0 313.5 L212.4 314.3 L212.8 315.7 L213.2 317.5 L213.6 319.3 L214.0 320.5 L214.4 321.1 L214.8 320.6 L215.2 319.2 L215.6 316.6 L216.0 313.2 L217.1 300.3 L219.3 300.0 L220.9 301.4 L222.5 304.0 L224.1 302.4 L225.5 301.4 L226.8 306.2 L227.8 314.7 L229.4 321.1 L230.8 322.7 L232.1 320.1 L233.7 318.5 L235.3 320.1 L236.4 317.9 L238.0 312.6 L239.6 313.7 L241.2 311.5 L242.6 306.2 L243.9 300.8 L245.1 299.5 L246.2 301.9 L247.6 307.2 L249.2 311.5 L250.8 316.9 L252.4 319.0 L253.5 316.9 L254.8 312.6 L256.1 310.4 L257.7 309.9 L259.0 312.0 L260.4 315.8 L262.0 319.0 L263.6 320.1 L265.0 317.9 L266.3 316.6 L267.6 316.9 L269.0 319.0 L270.0 319.5 L271.4 315.8 L272.7 311.5 L274.3 306.7 L275.7 304.6 L276.8 306.7 L277.5 308.3 L278.6 304.0 L279.5 297.6 L281.1 295.3 L282.3 296.6 L283.3 304.0 L284.4 311.5 L285.5 315.8 L286.8 313.7 L287.8 316.3 L289.2 319.5 L290.8 320.1 L292.4 322.2 L294.0 321.7 L295.6 324.9 L297.2 326.5 L298.8 327.0 L300.4 329.1 L302.0 328.6 L303.6 328.1 L305.8 327.0 L307.4 328.6 L309.0 329.1 L310.6 326.5 L312.2 324.3 L313.8 325.9 L315.4 324.9 L316.7 322.2 L318.1 320.1 L319.1 323.3 L320.2 327.5 L321.8 330.8 L324.0 331.8 L325.6 330.2 L327.2 329.7 L329.3 330.8 L331.4 331.3 L333.6 331.8 L335.7 330.8 L337.8 330.8 L340.0 330.4 L341.7 329.4 L343.5 331.6 L347.0 331.8 L349.9 331.1 L352.0 329.7 L354.1 331.1 L356.3 331.6 L357.7 330.2 L359.8 331.6 L362.6 331.8 L366.2 331.6 L367.6 326.2 L368.7 321.2 L370.0 319.8 L371.1 322.7 L372.2 321.9 L373.4 313.5 L374.5 312.3 L375.6 319.1 L376.8 325.5 L377.9 326.9 L379.0 325.5 L380.5 325.5 L381.6 316.3 L382.4 302.1 L383.4 294.4 L384.4 302.1 L385.5 316.3 L386.7 326.9 L388.1 331.1 L389.5 329.7 L391.2 327.6 L393.0 324.5 L394.5 325.5 L395.9 321.9 L397.3 318.4 L398.4 322.7 L399.7 329.0 L401.1 331.6 L403.6 331.1 L405.8 330.2 L407.2 329.7 L408.6 331.1 L410.7 330.4 L412.8 331.6 L415.0 330.4 L416.4 326.2 L417.8 322.7 L419.2 325.5 L420.6 330.4 L422.7 331.6 L424.9 330.4 L427.0 331.1 L429.1 330.2 L431.4 331.1 L433.0 331.6 L437.1 330.4 L438.8 328.3 L440.2 327.6 L441.3 320.5 L442.4 313.7 L443.6 314.2 L444.4 321.9 L445.3 329.7 L446.7 330.4 L447.8 329.0 L449.1 331.1 L452.6 331.6 L456.9 331.6 L459.0 330.4 L460.0 320.5 L461.1 307.8 L462.2 297.9 L463.1 294.8 L463.9 302.1 L465.1 313.5 L466.2 315.6 L467.3 317.0 L468.5 320.5 L469.6 324.8 L470.7 329.0 L471.9 330.7 L473.3 329.0 L474.1 326.2 L475.0 325.5 L476.0 328.3 L477.4 330.4 L478.8 330.1 L479.9 328.3 L480.9 330.1 L482.1 328.3 L483.2 327.3 L484.3 329.7 L485.9 330.7 L488.7 330.4 L491.5 329.7 L493.6 326.9 L495.3 325.5 L497.2 324.1 L498.6 326.9 L500.0 329.7 L502.1 330.4 L503.3 323.4 L504.1 312.0 L505.0 303.6 L505.8 300.4 L506.7 306.4 L507.5 316.3 L508.5 324.1 L509.5 326.9 L510.6 324.8 L512.0 319.1 L513.5 314.2 L514.6 312.0 L515.7 316.3 L516.8 321.9 L518.0 319.1 L519.1 317.0 L520.2 319.8 L521.4 326.2 L522.6 329.7 L524.0 329.0 L525.5 326.9 L526.9 329.0 L527.9 326.2 L528.8 319.1 L529.8 314.9 L530.8 313.5 L532.2 314.2 L533.6 315.2 L535.0 317.0 L535.9 320.5 L536.7 329.0 L537.8 330.4 L539.0 327.6 L540.1 316.3 L541.1 305.0 L542.1 297.2 L542.9 294.8 L543.8 299.3 L544.6 312.0 L545.5 323.4 L546.3 327.6 L547.7 329.0 L549.6 330.4 L551.0 331.1 L552.4 329.0 L553.8 326.2 L555.2 325.1 L556.7 327.6 L558.1 329.7 L559.9 328.3 L561.6 326.2 L563.0 325.1 L564.1 328.3 L565.1 331.1 L570.0 331.4 L580.0 331.2 L600.0 331.3 L621.0 331.1"/>
<path d="M264.0 331.9 L266.3 322.2 L267.9 320.1 L269.0 322.2 L270.0 326.5 L271.6 329.1 L272.7 324.3 L273.8 317.9 L275.1 314.2 L276.1 316.9 L277.2 322.2 L278.0 322.2 L279.6 322.2 L281.2 325.4 L283.3 329.7 L285.5 331.3 L287.1 330.2 L288.7 331.8 L300.0 332.0 L310.0 331.8 L311.2 330.6 L312.7 329.1 L314.9 330.8 L316.5 332.0"/>
<path d="M510.0 331.5 L515.0 329.8 L519.2 329.0 L523.5 328.3 L527.7 329.7 L533.4 330.4 L536.1 329.0 L540.4 326.9 L544.6 325.5 L548.9 324.5 L553.1 324.8 L557.4 323.4 L561.6 322.7 L565.8 322.2 L568.7 321.7 L571.5 320.5 L573.2 320.0 L575.0 320.8 L577.2 321.9 L580.0 322.7 L582.8 324.1 L584.9 325.1 L586.4 324.1 L587.8 322.7 L589.2 324.1 L590.6 325.1 L592.0 324.1 L594.1 324.8 L596.3 326.9 L599.1 327.6 L602.6 328.7 L605.5 328.3 L606.9 327.3 L609.0 328.7 L612.5 329.3 L616.1 329.0 L618.2 328.7 L621.0 329.7"/>
<path d="M535.0 331.4 L539.0 330.4 L546.0 329.7 L553.1 330.1 L561.6 330.4 L565.8 329.7 L570.1 329.0 L574.3 328.7 L578.6 327.9 L581.4 327.3 L584.2 326.5 L586.4 326.9 L588.5 327.9 L591.3 328.3 L594.1 329.0 L597.0 328.3 L601.2 327.6 L605.5 329.0 L609.7 329.7 L615.3 330.4 L621.0 330.1"/>
<path d="M150.0 384.5 L150.4 384.5 L150.8 384.5 L151.2 384.5 L151.6 384.5 L152.0 384.4 L152.4 384.4 L152.8 384.4 L153.2 384.3 L153.6 384.1 L154.0 383.9 L154.4 383.5 L154.8 383.1 L155.2 382.9 L155.6 382.9 L156.0 383.3 L156.4 383.6 L156.8 383.9 L157.2 384.1 L157.6 384.2 L158.0 384.3 L158.4 384.3 L158.8 384.2 L159.2 384.2 L159.6 384.2 L160.0 384.1 L160.4 384.0 L160.8 383.9 L161.2 383.7 L161.6 383.2 L162.0 382.3 L162.4 380.8 L162.8 378.6 L163.2 376.2 L163.6 374.3 L164.0 374.3 L164.4 376.1 L164.8 378.6 L165.2 380.8 L165.6 382.3 L166.0 383.2 L166.4 383.6 L166.8 383.9 L167.2 384.0 L167.6 384.1 L168.0 384.2 L168.4 384.2 L168.8 384.2 L169.2 384.3 L169.6 384.3 L170.0 384.3 L170.4 384.3 L170.8 384.3 L171.2 384.3 L171.6 384.3 L172.0 384.3 L172.4 384.3 L172.8 384.3 L173.2 384.3 L173.6 384.3 L174.0 384.3 L174.4 384.3 L174.8 384.3 L175.2 384.3 L175.6 384.3 L176.0 384.2 L176.4 384.2 L176.8 384.2 L177.2 384.2 L177.6 384.2 L178.0 384.1 L178.4 384.1 L178.8 384.1 L179.2 384.0 L179.6 384.0 L180.0 383.9 L180.4 383.9 L180.8 383.8 L181.2 383.8 L181.6 383.7 L182.0 383.6 L182.4 383.4 L182.8 383.3 L183.2 383.1 L183.6 382.9 L184.0 382.6 L184.4 382.1 L184.8 381.4 L185.2 380.2 L185.6 378.0 L186.0 374.3 L186.4 368.6 L186.8 360.9 L187.2 352.7 L187.6 347.0 L188.0 347.0 L188.4 351.9 L188.8 359.6 L189.2 366.3 L189.6 370.6 L190.0 371.7 L190.4 369.7 L190.8 364.6 L191.2 357.4 L191.6 349.8 L192.0 347.0 L192.4 347.1 L192.8 353.7 L193.2 361.6 L193.6 368.2 L194.0 372.5 L194.4 374.6 L194.8 375.1 L195.2 374.6 L195.6 373.8 L196.0 373.4 L196.4 373.6 L196.8 374.2 L197.2 374.6 L197.6 374.7 L198.0 374.3 L198.4 373.6 L198.8 372.9 L199.2 372.8 L199.6 373.6 L200.0 375.0 L200.4 376.7 L200.8 378.3 L201.2 379.6 L201.6 380.4 L202.0 380.8 L202.4 380.8 L202.8 380.3 L203.2 379.5 L203.6 378.3 L204.0 377.2 L204.4 376.2 L204.8 375.9 L205.2 376.4 L205.6 377.5 L206.0 378.8 L206.1 378.3 L207.1 384.0 L210.7 384.0 L212.1 380.4 L213.5 380.1 L214.9 384.0 L217.0 382.6 L219.1 384.0 L221.3 380.4 L222.7 378.7 L224.1 381.1 L226.2 384.1 L230.5 384.1 L231.9 382.6 L233.3 384.1 L236.8 383.0 L238.9 384.1 L247.4 384.1 L249.6 381.1 L251.0 380.4 L252.4 381.8 L253.4 379.0 L254.5 371.9 L255.6 366.3 L256.6 370.5 L257.6 377.6 L258.7 381.8 L260.2 384.1 L264.4 384.1 L292.7 384.1 L294.8 381.1 L296.2 380.1 L297.6 381.8 L299.1 384.0 L300.7 384.1 L307.7 384.1 L313.4 384.0 L314.8 381.1 L316.2 378.3 L317.3 376.2 L318.3 374.8 L319.3 376.9 L320.5 379.0 L321.9 378.3 L323.3 380.4 L324.7 383.0 L326.8 384.1 L328.9 383.0 L330.6 381.8 L331.8 383.0 L332.9 380.4 L334.3 379.3 L335.7 381.1 L337.1 384.0 L339.6 383.0 L340.5 379.0 L341.7 375.5 L342.8 374.5 L343.9 376.2 L345.1 380.4 L346.2 382.6 L347.3 380.4 L348.5 379.3 L349.5 380.4 L350.2 373.4 L351.0 359.2 L351.9 349.3 L352.4 347.2 L353.0 352.1 L353.8 366.3 L354.7 376.2 L355.5 378.3 L356.4 376.2 L357.2 369.1 L358.4 362.8 L359.5 360.6 L360.6 363.5 L361.8 367.7 L362.9 369.1 L364.3 369.8 L365.2 366.3 L366.0 362.0 L366.9 360.6 L368.0 361.3 L369.1 360.6 L370.0 363.5 L370.8 370.5 L371.7 379.0 L372.5 366.3 L373.2 352.1 L373.8 347.2 L374.5 352.1 L375.3 363.5 L376.2 374.8 L377.0 379.7 L378.2 380.4 L379.3 379.0 L380.4 376.2 L381.6 374.1 L382.4 373.4 L383.5 376.2 L384.7 379.0 L385.5 377.6 L386.1 372.0 L387.0 368.8 L387.8 368.4 L388.7 371.9 L389.5 379.7 L390.7 381.8 L393.5 381.5 L396.3 381.8 L398.4 381.1 L399.9 379.7 L401.3 381.1 L403.4 381.5 L406.2 381.1 L407.6 380.4 L408.3 373.4 L409.0 363.5 L409.9 352.1 L410.6 347.2 L411.3 352.1 L412.2 366.3 L413.0 376.2 L414.0 378.3 L415.4 376.9 L416.8 376.2 L418.2 375.5 L419.7 374.5 L420.6 373.4 L421.5 376.2 L422.5 378.3 L423.9 379.7 L425.3 378.3 L426.7 379.0 L427.7 376.2 L428.6 369.1 L429.6 362.0 L430.5 358.9 L431.3 358.5 L432.1 361.3 L433.1 366.3 L434.2 370.5 L435.4 372.6 L436.5 371.9 L437.3 371.2 L438.2 374.8 L439.3 377.6 L440.4 376.9 L441.6 375.9 L442.7 375.5 L443.7 373.4 L444.7 371.7 L445.5 374.1 L446.5 376.9 L447.5 376.2 L448.6 375.1 L449.8 375.5 L450.9 373.4 L452.0 370.8 L453.2 369.8 L454.3 371.9 L455.4 373.4 L456.4 369.1 L457.4 362.0 L458.3 359.9 L459.4 359.5 L460.5 358.5 L461.4 355.7 L462.1 355.0 L462.8 359.2 L463.9 366.3 L465.1 371.9 L466.2 376.9 L467.0 377.6 L467.9 374.8 L468.7 366.3 L469.6 357.8 L470.4 352.1 L471.3 351.0 L472.1 355.0 L473.0 362.0 L474.1 369.1 L475.2 374.1 L476.2 375.5 L477.5 374.1 L479.2 371.1 L480.9 363.5 L482.6 355.0 L483.8 349.9 L484.8 347.3 L485.9 351.6 L486.9 355.8 L488.2 357.5 L489.4 361.8 L490.6 368.6 L492.0 374.0 L493.3 370.3 L494.7 363.5 L496.1 359.2 L497.1 356.7 L498.1 355.3 L499.1 360.1 L500.1 367.7 L501.0 371.1 L502.2 368.6 L503.5 367.2 L504.9 368.6 L506.2 367.2 L507.3 367.7 L508.3 371.1 L509.6 376.2 L511.0 380.4 L512.4 382.5 L514.1 381.8 L515.4 378.7 L516.4 374.5 L517.4 373.7 L518.5 375.4 L519.5 378.7 L520.8 379.6 L522.2 378.4 L523.6 380.4 L524.9 384.1 L526.8 383.8 L528.5 382.5 L530.2 380.4 L531.4 380.1 L532.7 381.3 L534.4 384.1 L537.0 383.0 L539.5 382.5 L541.6 382.1 L542.9 383.0 L545.5 383.8 L549.7 384.2 L553.1 384.1 L555.6 383.0 L557.3 383.8 L563.3 384.2 L570.0 384.2 L576.9 383.8 L583.7 384.1 L586.2 384.1"/>
<path d="M184.0 383.8 L184.4 383.6 L184.8 383.4 L185.2 383.1 L185.6 382.6 L186.0 381.9 L186.4 380.9 L186.8 379.6 L187.2 377.9 L187.6 376.1 L188.0 374.4 L188.4 373.4 L188.8 373.2 L189.2 374.0 L189.6 375.3 L190.0 376.6 L190.4 377.4 L190.8 377.3 L191.2 376.2 L191.6 373.9 L192.0 370.6 L192.4 367.0 L192.8 364.5 L193.2 364.4 L193.6 366.8 L194.0 370.2 L194.4 373.4 L194.8 375.6 L195.2 376.6 L195.6 376.5 L196.0 375.7 L196.4 374.5 L196.8 373.2 L197.2 372.2 L197.6 371.9 L198.0 372.3 L198.4 373.1 L198.8 373.9 L199.2 374.4 L199.6 374.5 L200.0 374.3 L200.4 373.8 L200.8 373.7 L201.2 374.2 L201.6 375.3 L202.0 376.9 L202.4 378.6 L202.8 380.0 L203.2 381.2 L203.6 382.1 L204.0 382.8 L204.4 383.2 L204.8 383.5 L205.2 383.6 L205.6 383.8 L206.0 383.9 L206.4 384.0 L206.8 384.0 L207.2 384.1 L207.6 384.1 L208.0 384.2 L208.4 384.2 L208.8 384.2 L209.2 384.2 L209.6 384.3 L210.0 384.3 L210.4 384.3 L210.8 384.3 L211.2 384.4 L211.6 384.4 L212.0 384.4"/>
<path d="M347.0 384.0 L351.6 382.8 L353.0 381.1 L354.4 384.0 L357.2 381.8 L358.7 379.7 L359.8 379.0 L360.9 381.1 L362.2 384.0 L366.4 384.0 L367.8 381.1 L368.8 380.4 L370.0 382.6 L372.1 381.8 L373.1 380.4 L374.2 381.8 L376.3 380.4 L377.3 379.0 L378.5 381.1 L379.9 383.0 L387.0 383.0 L395.0 384.0 L404.8 384.0 L407.6 381.8 L409.8 380.4 L411.9 379.0 L414.0 378.3 L416.1 379.0 L418.2 376.9 L420.1 375.5 L421.1 377.6 L422.1 380.4 L423.2 383.0 L424.6 380.4 L426.0 377.6 L427.4 376.2 L428.8 371.9 L430.3 370.5 L431.7 371.9 L433.1 376.2 L434.5 380.4 L435.9 384.0 L437.0 384.0"/>
<path d="M427.4 384.0 L429.6 377.6 L431.0 373.4 L433.1 371.9 L435.2 372.6 L436.6 374.8 L438.0 377.6 L439.5 380.4 L440.9 379.0 L442.3 377.6 L443.7 379.0 L445.1 381.1 L446.5 384.0 L447.5 384.0"/>
<path d="M438.7 384.0 L440.9 379.7 L443.0 377.6 L445.1 378.3 L447.2 380.4 L448.6 379.0 L450.3 376.2 L452.2 378.3 L454.3 379.7 L455.7 378.3 L457.1 376.9 L458.5 378.3 L460.0 379.7 L462.1 379.7 L464.2 379.0 L465.6 379.7 L467.7 381.8 L469.9 384.0 L475.0 384.1 L481.8 384.1 L488.6 384.0 L492.0 382.7 L495.4 382.3 L497.9 381.0 L499.6 381.0 L501.3 382.3 L503.9 383.0 L507.3 382.3 L510.7 382.7 L514.1 383.0 L517.4 384.0 L520.8 383.0 L524.2 384.0 L527.6 384.3"/>
<path d="M121.0 436.6 L122.2 435.5 L123.5 436.6 L470.7 436.9"/>
<path d="M279.3 436.3 L280.3 434.1 L281.4 432.1 L282.2 431.6 L283.1 433.8 L284.1 436.3 L289.5 436.3 L290.5 435.0 L291.6 434.5 L292.6 435.8 L293.8 436.3 L296.3 436.2 L297.7 435.2 L299.0 436.2 L301.4 435.8 L303.1 434.8 L304.5 435.8 L306.5 436.3 L309.0 435.8 L310.7 435.2 L311.9 436.2 L313.6 435.8 L314.5 429.0 L315.3 418.9 L316.2 413.8 L317.0 413.8 L317.9 420.6 L318.7 432.4 L319.6 436.2 L326.9 436.2 L327.9 432.4 L328.9 420.6 L329.9 408.7 L330.8 401.0 L331.3 399.3 L332.0 405.3 L332.8 418.9 L333.7 430.7 L334.7 435.8 L335.7 432.4 L336.7 428.2 L337.7 426.0 L338.4 425.7 L339.4 428.2 L340.4 432.4 L341.6 432.6 L343.0 436.0 L345.9 436.5 L348.3 435.1 L350.9 436.3 L353.9 435.9 L355.8 432.6 L357.4 431.0 L359.0 432.0 L360.6 434.6 L362.2 435.9 L364.8 435.1 L365.7 425.6 L366.7 409.8 L367.7 399.9 L368.5 399.9 L369.3 409.8 L370.3 425.6 L371.3 434.6 L372.7 432.6 L374.1 433.2 L375.6 431.6 L377.2 432.6 L378.6 434.6 L379.6 432.6 L380.8 426.6 L382.0 424.1 L383.2 423.7 L384.6 424.7 L385.5 429.6 L386.7 433.6 L387.9 433.2 L389.1 429.6 L390.3 423.7 L391.5 415.7 L392.7 405.8 L393.9 399.5 L394.9 405.8 L395.8 417.7 L396.8 427.6 L397.8 432.6 L398.8 431.6 L399.8 433.2 L401.0 429.6 L402.2 419.7 L403.4 411.8 L404.6 407.4 L405.7 409.8 L406.9 415.7 L408.1 419.7 L409.3 422.7 L410.9 426.6 L412.5 425.6 L413.7 424.7 L415.2 426.6 L416.8 430.6 L418.4 433.6 L420.0 434.6 L421.6 434.0 L423.2 435.1 L424.8 434.6 L426.3 432.6 L427.5 432.6 L429.1 434.6 L431.1 435.9 L433.1 435.1 L435.0 433.6 L437.0 432.6 L438.6 435.1 L441.0 436.7 L444.0 435.9 L445.3 435.5 L446.9 436.5 L450.9 436.9 L460.0 436.9 L470.7 436.9"/>
<path d="M378.0 436.4 L379.6 435.9 L381.6 432.6 L382.8 431.6 L384.0 435.9 L386.0 436.4 L393.5 436.7 L395.4 435.5 L397.4 436.7"/>
</g>
</g>
<g stroke="#3c3c3c" stroke-width="1" fill="none">
<path d="M28.2 0.4 H621.2 V439.6 H28.2 Z"/>
<path d="M102.3 439.6 v-6 M102.3 0.4 v6"/>
<path d="M176.4 439.6 v-6 M176.4 0.4 v6"/>
<path d="M250.6 439.6 v-6 M250.6 0.4 v6"/>
<path d="M324.7 439.6 v-6 M324.7 0.4 v6"/>
<path d="M398.8 439.6 v-6 M398.8 0.4 v6"/>
<path d="M472.9 439.6 v-6 M472.9 0.4 v6"/>
<path d="M547.1 439.6 v-6 M547.1 0.4 v6"/>
<path d="M28.2 397.6 h6 M621.2 397.6 h-6"/>
<path d="M28.2 355.8 h6 M621.2 355.8 h-6"/>
<path d="M28.2 313.9 h6 M621.2 313.9 h-6"/>
<path d="M28.2 272.1 h6 M621.2 272.1 h-6"/>
<path d="M28.2 230.3 h6 M621.2 230.3 h-6"/>
<path d="M28.2 188.5 h6 M621.2 188.5 h-6"/>
<path d="M28.2 146.7 h6 M621.2 146.7 h-6"/>
<path d="M28.2 104.8 h6 M621.2 104.8 h-6"/>
<path d="M28.2 63.0 h6 M621.2 63.0 h-6"/>
<path d="M28.2 21.2 h6 M621.2 21.2 h-6"/>
</g>
<text transform="translate(28.2 453.2) scale(0.92 1)" font-size="9.7" text-anchor="middle" style="fill:#262626;stroke:#262626;stroke-width:0.25">8</text>
<text transform="translate(102.3 453.2) scale(0.92 1)" font-size="9.7" text-anchor="middle" style="fill:#262626;stroke:#262626;stroke-width:0.25">8.5</text>
<text transform="translate(176.4 453.2) scale(0.92 1)" font-size="9.7" text-anchor="middle" style="fill:#262626;stroke:#262626;stroke-width:0.25">9</text>
<text transform="translate(250.6 453.2) scale(0.92 1)" font-size="9.7" text-anchor="middle" style="fill:#262626;stroke:#262626;stroke-width:0.25">9.5</text>
<text transform="translate(324.7 453.2) scale(0.92 1)" font-size="9.7" text-anchor="middle" style="fill:#262626;stroke:#262626;stroke-width:0.25">10</text>
<text transform="translate(398.8 453.2) scale(0.92 1)" font-size="9.7" text-anchor="middle" style="fill:#262626;stroke:#262626;stroke-width:0.25">10.5</text>
<text transform="translate(472.9 453.2) scale(0.92 1)" font-size="9.7" text-anchor="middle" style="fill:#262626;stroke:#262626;stroke-width:0.25">11</text>
<text transform="translate(547.1 453.2) scale(0.92 1)" font-size="9.7" text-anchor="middle" style="fill:#262626;stroke:#262626;stroke-width:0.25">11.5</text>
<text transform="translate(621.2 453.2) scale(0.92 1)" font-size="9.7" text-anchor="middle" style="fill:#262626;stroke:#262626;stroke-width:0.25">12</text>
<text transform="translate(23.6 443.3) scale(0.92 1)" font-size="9.7" text-anchor="end" style="fill:#262626;stroke:#262626;stroke-width:0.25">0</text>
<text transform="translate(23.6 401.5) scale(0.92 1)" font-size="9.7" text-anchor="end" style="fill:#262626;stroke:#262626;stroke-width:0.25">0.1</text>
<text transform="translate(23.6 359.7) scale(0.92 1)" font-size="9.7" text-anchor="end" style="fill:#262626;stroke:#262626;stroke-width:0.25">0.2</text>
<text transform="translate(23.6 317.8) scale(0.92 1)" font-size="9.7" text-anchor="end" style="fill:#262626;stroke:#262626;stroke-width:0.25">0.3</text>
<text transform="translate(23.6 276.0) scale(0.92 1)" font-size="9.7" text-anchor="end" style="fill:#262626;stroke:#262626;stroke-width:0.25">0.4</text>
<text transform="translate(23.6 234.2) scale(0.92 1)" font-size="9.7" text-anchor="end" style="fill:#262626;stroke:#262626;stroke-width:0.25">0.5</text>
<text transform="translate(23.6 192.4) scale(0.92 1)" font-size="9.7" text-anchor="end" style="fill:#262626;stroke:#262626;stroke-width:0.25">0.6</text>
<text transform="translate(23.6 150.6) scale(0.92 1)" font-size="9.7" text-anchor="end" style="fill:#262626;stroke:#262626;stroke-width:0.25">0.7</text>
<text transform="translate(23.6 108.7) scale(0.92 1)" font-size="9.7" text-anchor="end" style="fill:#262626;stroke:#262626;stroke-width:0.25">0.8</text>
<text transform="translate(23.6 66.9) scale(0.92 1)" font-size="9.7" text-anchor="end" style="fill:#262626;stroke:#262626;stroke-width:0.25">0.9</text>
<text transform="translate(23.6 25.1) scale(0.92 1)" font-size="9.7" text-anchor="end" style="fill:#262626;stroke:#262626;stroke-width:0.25">1</text>
<text transform="translate(325.2 465.6) scale(0.97 1)" font-size="10.4" text-anchor="middle" style="fill:#262626;stroke:#262626;stroke-width:0.25">Wavelength (nm)</text>
<text transform="translate(8.2 222.2) rotate(-90) scale(0.97 1)" font-size="10.4" text-anchor="middle" style="fill:#262626;stroke:#262626;stroke-width:0.25">Counts (arb. units)</text>
<text transform="translate(35.8 57.4) scale(0.915 1)" font-size="11.7" text-anchor="start" style="fill:#000;stroke:#000;stroke-width:0.3">Ce4+</text>
<text transform="translate(35.8 109.7) scale(0.915 1)" font-size="11.7" text-anchor="start" style="fill:#000;stroke:#000;stroke-width:0.3">Ce5+</text>
<text transform="translate(35.8 161.9) scale(0.915 1)" font-size="11.7" text-anchor="start" style="fill:#000;stroke:#000;stroke-width:0.3">Ce6+</text>
<text transform="translate(35.8 214.2) scale(0.915 1)" font-size="11.7" text-anchor="start" style="fill:#000;stroke:#000;stroke-width:0.3">Ce7+</text>
<text transform="translate(35.8 266.4) scale(0.915 1)" font-size="11.7" text-anchor="start" style="fill:#000;stroke:#000;stroke-width:0.3">Ce8+</text>
<text transform="translate(35.8 318.7) scale(0.915 1)" font-size="11.7" text-anchor="start" style="fill:#000;stroke:#000;stroke-width:0.3">Ce9+</text>
<text transform="translate(35.8 371.0) scale(0.915 1)" font-size="11.7" text-anchor="start" style="fill:#000;stroke:#000;stroke-width:0.3">Ce10+</text>
<text transform="translate(35.8 423.2) scale(0.915 1)" font-size="11.7" text-anchor="start" style="fill:#000;stroke:#000;stroke-width:0.3">Ce11+</text>
<rect x="636.5" y="0.5" width="70" height="34.7" fill="#fff" stroke="#3c3c3c" stroke-width="1"/>
<line x1="639" y1="7.0" x2="661" y2="7.0" stroke="#000" stroke-width="1.3"/>
<text transform="translate(663.2 10.5) scale(0.92 1)" font-size="8.7" text-anchor="start" style="fill:#000;stroke:#000;stroke-width:0.2">Experiment</text>
<line x1="639" y1="17.9" x2="661" y2="17.9" stroke="#3C6ABA" stroke-width="1.3"/>
<text transform="translate(663.2 21.4) scale(0.92 1)" font-size="8.7" text-anchor="start" style="fill:#000;stroke:#000;stroke-width:0.2">4d-4f</text>
<line x1="639" y1="28.9" x2="661" y2="28.9" stroke="#E1AA32" stroke-width="1.3"/>
<text transform="translate(663.2 32.4) scale(0.92 1)" font-size="8.7" text-anchor="start" style="fill:#000;stroke:#000;stroke-width:0.2">4d-5p</text>
</svg></body></html>
